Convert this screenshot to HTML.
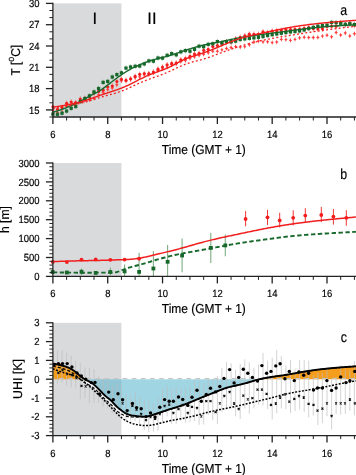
<!DOCTYPE html>
<html><head><meta charset="utf-8"><style>
html,body{margin:0;padding:0;background:#fff;}
body{width:356px;height:475px;position:relative;overflow:hidden;font-family:"Liberation Sans",sans-serif;color:#000;}
.t{position:absolute;white-space:nowrap;line-height:1;will-change:transform;text-rendering:geometricPrecision;-webkit-text-stroke:0.18px #000;}
sup{font-size:72%;vertical-align:0;position:relative;top:-0.62em;}
</style></head><body>
<svg width="356" height="475" viewBox="0 0 356 475" style="position:absolute;left:0;top:0">
<defs><clipPath id="cpa"><rect x="49" y="0" width="310" height="119"/></clipPath><clipPath id="cpb"><rect x="49" y="150" width="310" height="126.4"/></clipPath><clipPath id="cpc"><rect x="53" y="310" width="310" height="125.6"/></clipPath></defs>
<rect x="53.50" y="3.40" width="67.93" height="113.00" fill="#d9dadc"/>
<rect x="53.50" y="163.00" width="67.93" height="112.80" fill="#d9dadc"/>
<rect x="53.50" y="322.80" width="67.93" height="112.20" fill="#d9dadc"/>
<g clip-path="url(#cpa)">
<path d="M52.90,108.01L53.60,109.71L54.70,110.41L53.60,111.11L52.90,112.81L52.20,111.11L51.10,110.41L52.20,109.71Z" fill="#f33" fill-opacity="0.95"/>
<path d="M57.47,110.23L58.17,111.93L59.27,112.63L58.17,113.33L57.47,115.03L56.77,113.33L55.67,112.63L56.77,111.93Z" fill="#f33" fill-opacity="0.95"/>
<path d="M62.04,109.83L62.74,111.53L63.84,112.23L62.74,112.93L62.04,114.63L61.34,112.93L60.24,112.23L61.34,111.53Z" fill="#f33" fill-opacity="0.95"/>
<path d="M66.61,103.03L67.31,104.73L68.41,105.43L67.31,106.13L66.61,107.83L65.91,106.13L64.81,105.43L65.91,104.73Z" fill="#f33" fill-opacity="0.95"/>
<path d="M71.17,102.59L71.87,104.29L72.97,104.99L71.87,105.69L71.17,107.39L70.47,105.69L69.37,104.99L70.47,104.29Z" fill="#f33" fill-opacity="0.95"/>
<path d="M75.74,102.76L76.44,104.46L77.54,105.16L76.44,105.86L75.74,107.56L75.04,105.86L73.94,105.16L75.04,104.46Z" fill="#f33" fill-opacity="0.95"/>
<path d="M80.31,99.26L81.01,100.96L82.11,101.66L81.01,102.36L80.31,104.06L79.61,102.36L78.51,101.66L79.61,100.96Z" fill="#f33" fill-opacity="0.95"/>
<path d="M84.88,98.05L85.58,99.75L86.68,100.45L85.58,101.15L84.88,102.85L84.18,101.15L83.08,100.45L84.18,99.75Z" fill="#f33" fill-opacity="0.95"/>
<path d="M89.45,97.47L90.15,99.17L91.25,99.87L90.15,100.57L89.45,102.27L88.75,100.57L87.65,99.87L88.75,99.17Z" fill="#f33" fill-opacity="0.95"/>
<path d="M94.02,96.01L94.72,97.71L95.81,98.41L94.72,99.11L94.02,100.81L93.31,99.11L92.22,98.41L93.31,97.71Z" fill="#f33" fill-opacity="0.95"/>
<path d="M98.58,92.18L99.28,93.88L100.38,94.58L99.28,95.28L98.58,96.98L97.88,95.28L96.78,94.58L97.88,93.88Z" fill="#f33" fill-opacity="0.95"/>
<path d="M103.15,90.04L103.85,91.74L104.95,92.44L103.85,93.14L103.15,94.84L102.45,93.14L101.35,92.44L102.45,91.74Z" fill="#f33" fill-opacity="0.95"/>
<path d="M107.72,87.21L108.42,88.91L109.52,89.61L108.42,90.31L107.72,92.01L107.02,90.31L105.92,89.61L107.02,88.91Z" fill="#f33" fill-opacity="0.95"/>
<path d="M112.29,85.67L112.99,87.37L114.09,88.07L112.99,88.77L112.29,90.47L111.59,88.77L110.49,88.07L111.59,87.37Z" fill="#f33" fill-opacity="0.95"/>
<path d="M116.86,82.38L117.56,84.08L118.66,84.78L117.56,85.48L116.86,87.18L116.16,85.48L115.06,84.78L116.16,84.08Z" fill="#f33" fill-opacity="0.95"/>
<path d="M121.43,78.52L122.13,80.22L123.23,80.92L122.13,81.62L121.43,83.32L120.73,81.62L119.63,80.92L120.73,80.22Z" fill="#f33" fill-opacity="0.95"/>
<path d="M125.99,78.30L126.69,80.00L127.79,80.70L126.69,81.40L125.99,83.10L125.29,81.40L124.19,80.70L125.29,80.00Z" fill="#f33" fill-opacity="0.95"/>
<path d="M130.56,76.93L131.26,78.63L132.36,79.33L131.26,80.03L130.56,81.73L129.86,80.03L128.76,79.33L129.86,78.63Z" fill="#f33" fill-opacity="0.95"/>
<path d="M135.13,75.37L135.83,77.07L136.93,77.77L135.83,78.47L135.13,80.17L134.43,78.47L133.33,77.77L134.43,77.07Z" fill="#f33" fill-opacity="0.95"/>
<path d="M139.70,74.37L140.40,76.07L141.50,76.77L140.40,77.47L139.70,79.17L139.00,77.47L137.90,76.77L139.00,76.07Z" fill="#f33" fill-opacity="0.95"/>
<path d="M144.27,72.49L144.97,74.19L146.07,74.89L144.97,75.59L144.27,77.29L143.57,75.59L142.47,74.89L143.57,74.19Z" fill="#f33" fill-opacity="0.95"/>
<path d="M148.84,71.00L149.53,72.70L150.64,73.40L149.53,74.10L148.84,75.80L148.14,74.10L147.03,73.40L148.14,72.70Z" fill="#f33" fill-opacity="0.95"/>
<path d="M153.40,70.51L154.10,72.21L155.20,72.91L154.10,73.61L153.40,75.31L152.70,73.61L151.60,72.91L152.70,72.21Z" fill="#f33" fill-opacity="0.95"/>
<path d="M157.97,68.07L158.67,69.77L159.77,70.47L158.67,71.17L157.97,72.87L157.27,71.17L156.17,70.47L157.27,69.77Z" fill="#f33" fill-opacity="0.95"/>
<path d="M162.54,66.53L163.24,68.23L164.34,68.93L163.24,69.63L162.54,71.33L161.84,69.63L160.74,68.93L161.84,68.23Z" fill="#f33" fill-opacity="0.95"/>
<path d="M167.11,64.71L167.81,66.41L168.91,67.11L167.81,67.81L167.11,69.51L166.41,67.81L165.31,67.11L166.41,66.41Z" fill="#f33" fill-opacity="0.95"/>
<path d="M171.68,62.34L172.38,64.04L173.48,64.74L172.38,65.44L171.68,67.14L170.98,65.44L169.88,64.74L170.98,64.04Z" fill="#f33" fill-opacity="0.95"/>
<path d="M176.25,61.12L176.94,62.82L178.05,63.52L176.94,64.22L176.25,65.92L175.55,64.22L174.44,63.52L175.55,62.82Z" fill="#f33" fill-opacity="0.95"/>
<path d="M180.81,59.16L181.51,60.86L182.61,61.56L181.51,62.26L180.81,63.96L180.11,62.26L179.01,61.56L180.11,60.86Z" fill="#f33" fill-opacity="0.95"/>
<path d="M185.38,58.08L186.08,59.78L187.18,60.48L186.08,61.18L185.38,62.88L184.68,61.18L183.58,60.48L184.68,59.78Z" fill="#f33" fill-opacity="0.95"/>
<path d="M189.95,55.83L190.65,57.53L191.75,58.23L190.65,58.93L189.95,60.63L189.25,58.93L188.15,58.23L189.25,57.53Z" fill="#f33" fill-opacity="0.95"/>
<path d="M194.52,54.51L195.22,56.21L196.32,56.91L195.22,57.61L194.52,59.31L193.82,57.61L192.72,56.91L193.82,56.21Z" fill="#f33" fill-opacity="0.95"/>
<path d="M199.09,52.86L199.79,54.56L200.89,55.26L199.79,55.96L199.09,57.66L198.39,55.96L197.29,55.26L198.39,54.56Z" fill="#f33" fill-opacity="0.95"/>
<path d="M203.66,51.89L204.35,53.59L205.46,54.29L204.35,54.99L203.66,56.69L202.96,54.99L201.85,54.29L202.96,53.59Z" fill="#f33" fill-opacity="0.95"/>
<path d="M208.22,50.34L208.92,52.04L210.02,52.74L208.92,53.44L208.22,55.14L207.52,53.44L206.42,52.74L207.52,52.04Z" fill="#f33" fill-opacity="0.95"/>
<path d="M212.79,48.81L213.49,50.51L214.59,51.21L213.49,51.91L212.79,53.61L212.09,51.91L210.99,51.21L212.09,50.51Z" fill="#f33" fill-opacity="0.95"/>
<path d="M217.36,48.81L218.06,50.51L219.16,51.21L218.06,51.91L217.36,53.61L216.66,51.91L215.56,51.21L216.66,50.51Z" fill="#f33" fill-opacity="0.95"/>
<path d="M221.93,47.48L222.63,49.18L223.73,49.88L222.63,50.58L221.93,52.28L221.23,50.58L220.13,49.88L221.23,49.18Z" fill="#f33" fill-opacity="0.95"/>
<path d="M226.50,46.06L227.20,47.76L228.30,48.46L227.20,49.16L226.50,50.86L225.80,49.16L224.70,48.46L225.80,47.76Z" fill="#f33" fill-opacity="0.95"/>
<path d="M231.06,45.10L231.76,46.80L232.87,47.50L231.76,48.20L231.06,49.90L230.37,48.20L229.26,47.50L230.37,46.80Z" fill="#f33" fill-opacity="0.95"/>
<path d="M235.63,44.27L236.33,45.97L237.43,46.67L236.33,47.37L235.63,49.07L234.93,47.37L233.83,46.67L234.93,45.97Z" fill="#f33" fill-opacity="0.95"/>
<path d="M240.20,44.72L240.90,46.42L242.00,47.12L240.90,47.82L240.20,49.52L239.50,47.82L238.40,47.12L239.50,46.42Z" fill="#f33" fill-opacity="0.95"/>
<path d="M244.77,44.25L245.47,45.95L246.57,46.65L245.47,47.35L244.77,49.05L244.07,47.35L242.97,46.65L244.07,45.95Z" fill="#f33" fill-opacity="0.95"/>
<path d="M249.34,42.36L250.04,44.06L251.14,44.76L250.04,45.46L249.34,47.16L248.64,45.46L247.54,44.76L248.64,44.06Z" fill="#f33" fill-opacity="0.95"/>
<path d="M253.91,39.58L254.61,41.28L255.71,41.98L254.61,42.68L253.91,44.38L253.21,42.68L252.11,41.98L253.21,41.28Z" fill="#f33" fill-opacity="0.95"/>
<path d="M258.47,38.67L259.17,40.37L260.27,41.07L259.17,41.77L258.47,43.47L257.77,41.77L256.67,41.07L257.77,40.37Z" fill="#f33" fill-opacity="0.95"/>
<path d="M263.04,39.50L263.74,41.20L264.84,41.90L263.74,42.60L263.04,44.30L262.34,42.60L261.24,41.90L262.34,41.20Z" fill="#f33" fill-opacity="0.95"/>
<path d="M267.61,39.39L268.31,41.09L269.41,41.79L268.31,42.49L267.61,44.19L266.91,42.49L265.81,41.79L266.91,41.09Z" fill="#f33" fill-opacity="0.95"/>
<path d="M272.18,40.18L272.88,41.88L273.98,42.58L272.88,43.28L272.18,44.98L271.48,43.28L270.38,42.58L271.48,41.88Z" fill="#f33" fill-opacity="0.95"/>
<path d="M276.75,39.67L277.45,41.37L278.55,42.07L277.45,42.77L276.75,44.47L276.05,42.77L274.95,42.07L276.05,41.37Z" fill="#f33" fill-opacity="0.95"/>
<path d="M281.32,36.99L282.02,38.69L283.12,39.39L282.02,40.09L281.32,41.79L280.62,40.09L279.52,39.39L280.62,38.69Z" fill="#f33" fill-opacity="0.95"/>
<path d="M285.88,37.23L286.58,38.93L287.69,39.63L286.58,40.33L285.88,42.03L285.19,40.33L284.08,39.63L285.19,38.93Z" fill="#f33" fill-opacity="0.95"/>
<path d="M290.45,37.94L291.15,39.64L292.25,40.34L291.15,41.04L290.45,42.74L289.75,41.04L288.65,40.34L289.75,39.64Z" fill="#f33" fill-opacity="0.95"/>
<path d="M295.02,37.00L295.72,38.70L296.82,39.40L295.72,40.10L295.02,41.80L294.32,40.10L293.22,39.40L294.32,38.70Z" fill="#f33" fill-opacity="0.95"/>
<path d="M299.59,35.50L300.29,37.20L301.39,37.90L300.29,38.60L299.59,40.30L298.89,38.60L297.79,37.90L298.89,37.20Z" fill="#f33" fill-opacity="0.95"/>
<path d="M304.16,34.79L304.86,36.49L305.96,37.19L304.86,37.89L304.16,39.59L303.46,37.89L302.36,37.19L303.46,36.49Z" fill="#f33" fill-opacity="0.95"/>
<path d="M308.73,35.13L309.43,36.83L310.53,37.53L309.43,38.23L308.73,39.93L308.03,38.23L306.93,37.53L308.03,36.83Z" fill="#f33" fill-opacity="0.95"/>
<path d="M313.29,35.10L313.99,36.80L315.09,37.50L313.99,38.20L313.29,39.90L312.59,38.20L311.49,37.50L312.59,36.80Z" fill="#f33" fill-opacity="0.95"/>
<path d="M317.86,35.05L318.56,36.75L319.66,37.45L318.56,38.15L317.86,39.85L317.16,38.15L316.06,37.45L317.16,36.75Z" fill="#f33" fill-opacity="0.95"/>
<path d="M322.43,33.71L323.13,35.41L324.23,36.11L323.13,36.81L322.43,38.51L321.73,36.81L320.63,36.11L321.73,35.41Z" fill="#f33" fill-opacity="0.95"/>
<path d="M327.00,32.80L327.70,34.50L328.80,35.20L327.70,35.90L327.00,37.60L326.30,35.90L325.20,35.20L326.30,34.50Z" fill="#f33" fill-opacity="0.95"/>
<path d="M331.57,34.41L332.27,36.11L333.37,36.81L332.27,37.51L331.57,39.21L330.87,37.51L329.77,36.81L330.87,36.11Z" fill="#f33" fill-opacity="0.95"/>
<path d="M336.14,30.09L336.84,31.79L337.94,32.49L336.84,33.19L336.14,34.89L335.44,33.19L334.34,32.49L335.44,31.79Z" fill="#f33" fill-opacity="0.95"/>
<path d="M340.70,32.64L341.40,34.34L342.50,35.04L341.40,35.74L340.70,37.44L340.00,35.74L338.90,35.04L340.00,34.34Z" fill="#f33" fill-opacity="0.95"/>
<path d="M345.27,30.62L345.97,32.32L347.07,33.02L345.97,33.72L345.27,35.42L344.57,33.72L343.47,33.02L344.57,32.32Z" fill="#f33" fill-opacity="0.95"/>
<path d="M349.84,33.55L350.54,35.25L351.64,35.95L350.54,36.65L349.84,38.35L349.14,36.65L348.04,35.95L349.14,35.25Z" fill="#f33" fill-opacity="0.95"/>
<path d="M354.41,31.37L355.11,33.07L356.21,33.77L355.11,34.47L354.41,36.17L353.71,34.47L352.61,33.77L353.71,33.07Z" fill="#f33" fill-opacity="0.95"/>
<path d="M52.9,104.0V110.0" stroke="#f55" stroke-width="0.8" stroke-opacity="0.8"/>
<circle cx="52.9" cy="106.8" r="1.6" fill="#f21d1d"/>
<path d="M57.5,106.6V112.6" stroke="#f55" stroke-width="0.8" stroke-opacity="0.8"/>
<circle cx="57.5" cy="109.4" r="1.6" fill="#f21d1d"/>
<path d="M62.0,104.8V110.8" stroke="#f55" stroke-width="0.8" stroke-opacity="0.8"/>
<circle cx="62.0" cy="107.6" r="1.6" fill="#f21d1d"/>
<path d="M66.6,100.5V106.5" stroke="#f55" stroke-width="0.8" stroke-opacity="0.8"/>
<circle cx="66.6" cy="103.3" r="1.6" fill="#f21d1d"/>
<path d="M71.2,99.2V105.2" stroke="#f55" stroke-width="0.8" stroke-opacity="0.8"/>
<circle cx="71.2" cy="102.0" r="1.6" fill="#f21d1d"/>
<path d="M75.7,99.9V105.9" stroke="#f55" stroke-width="0.8" stroke-opacity="0.8"/>
<circle cx="75.7" cy="102.7" r="1.6" fill="#f21d1d"/>
<path d="M80.3,96.3V102.3" stroke="#f55" stroke-width="0.8" stroke-opacity="0.8"/>
<circle cx="80.3" cy="99.1" r="1.6" fill="#f21d1d"/>
<path d="M84.9,95.6V101.6" stroke="#f55" stroke-width="0.8" stroke-opacity="0.8"/>
<circle cx="84.9" cy="98.4" r="1.6" fill="#f21d1d"/>
<path d="M89.4,94.2V100.2" stroke="#f55" stroke-width="0.8" stroke-opacity="0.8"/>
<circle cx="89.4" cy="97.0" r="1.6" fill="#f21d1d"/>
<path d="M94.0,90.1V96.1" stroke="#f55" stroke-width="0.8" stroke-opacity="0.8"/>
<circle cx="94.0" cy="92.9" r="1.6" fill="#f21d1d"/>
<path d="M98.6,88.6V94.6" stroke="#f55" stroke-width="0.8" stroke-opacity="0.8"/>
<circle cx="98.6" cy="91.4" r="1.6" fill="#f21d1d"/>
<path d="M103.2,87.4V93.4" stroke="#f55" stroke-width="0.8" stroke-opacity="0.8"/>
<circle cx="103.2" cy="90.2" r="1.6" fill="#f21d1d"/>
<path d="M107.7,84.2V90.2" stroke="#f55" stroke-width="0.8" stroke-opacity="0.8"/>
<circle cx="107.7" cy="87.0" r="1.6" fill="#f21d1d"/>
<path d="M112.3,83.3V89.3" stroke="#f55" stroke-width="0.8" stroke-opacity="0.8"/>
<circle cx="112.3" cy="86.1" r="1.6" fill="#f21d1d"/>
<path d="M116.9,78.7V84.7" stroke="#f55" stroke-width="0.8" stroke-opacity="0.8"/>
<circle cx="116.9" cy="81.5" r="1.6" fill="#f21d1d"/>
<path d="M121.4,76.5V82.5" stroke="#f55" stroke-width="0.8" stroke-opacity="0.8"/>
<circle cx="121.4" cy="79.3" r="1.6" fill="#f21d1d"/>
<path d="M126.0,77.6V83.6" stroke="#f55" stroke-width="0.8" stroke-opacity="0.8"/>
<circle cx="126.0" cy="80.4" r="1.6" fill="#f21d1d"/>
<path d="M130.6,76.0V82.0" stroke="#f55" stroke-width="0.8" stroke-opacity="0.8"/>
<circle cx="130.6" cy="78.8" r="1.6" fill="#f21d1d"/>
<path d="M135.1,73.5V79.5" stroke="#f55" stroke-width="0.8" stroke-opacity="0.8"/>
<circle cx="135.1" cy="76.3" r="1.6" fill="#f21d1d"/>
<path d="M139.7,71.5V77.5" stroke="#f55" stroke-width="0.8" stroke-opacity="0.8"/>
<circle cx="139.7" cy="74.3" r="1.6" fill="#f21d1d"/>
<path d="M144.3,70.7V76.7" stroke="#f55" stroke-width="0.8" stroke-opacity="0.8"/>
<circle cx="144.3" cy="73.5" r="1.6" fill="#f21d1d"/>
<path d="M148.8,71.0V77.0" stroke="#f55" stroke-width="0.8" stroke-opacity="0.8"/>
<circle cx="148.8" cy="73.8" r="1.6" fill="#f21d1d"/>
<path d="M153.4,69.2V75.2" stroke="#f55" stroke-width="0.8" stroke-opacity="0.8"/>
<circle cx="153.4" cy="72.0" r="1.6" fill="#f21d1d"/>
<path d="M158.0,66.4V72.4" stroke="#f55" stroke-width="0.8" stroke-opacity="0.8"/>
<circle cx="158.0" cy="69.2" r="1.6" fill="#f21d1d"/>
<path d="M162.5,64.3V70.3" stroke="#f55" stroke-width="0.8" stroke-opacity="0.8"/>
<circle cx="162.5" cy="67.1" r="1.6" fill="#f21d1d"/>
<path d="M167.1,62.0V68.0" stroke="#f55" stroke-width="0.8" stroke-opacity="0.8"/>
<circle cx="167.1" cy="64.8" r="1.6" fill="#f21d1d"/>
<path d="M171.7,60.6V66.6" stroke="#f55" stroke-width="0.8" stroke-opacity="0.8"/>
<circle cx="171.7" cy="63.4" r="1.6" fill="#f21d1d"/>
<path d="M176.2,60.3V66.3" stroke="#f55" stroke-width="0.8" stroke-opacity="0.8"/>
<circle cx="176.2" cy="63.1" r="1.6" fill="#f21d1d"/>
<path d="M180.8,57.0V63.0" stroke="#f55" stroke-width="0.8" stroke-opacity="0.8"/>
<circle cx="180.8" cy="59.8" r="1.6" fill="#f21d1d"/>
<path d="M185.4,55.7V61.7" stroke="#f55" stroke-width="0.8" stroke-opacity="0.8"/>
<circle cx="185.4" cy="58.5" r="1.6" fill="#f21d1d"/>
<path d="M190.0,53.5V59.5" stroke="#f55" stroke-width="0.8" stroke-opacity="0.8"/>
<circle cx="190.0" cy="56.3" r="1.6" fill="#f21d1d"/>
<path d="M194.5,51.2V57.2" stroke="#f55" stroke-width="0.8" stroke-opacity="0.8"/>
<circle cx="194.5" cy="54.0" r="1.6" fill="#f21d1d"/>
<path d="M199.1,50.5V56.5" stroke="#f55" stroke-width="0.8" stroke-opacity="0.8"/>
<circle cx="199.1" cy="53.3" r="1.6" fill="#f21d1d"/>
<path d="M203.7,47.5V53.5" stroke="#f55" stroke-width="0.8" stroke-opacity="0.8"/>
<circle cx="203.7" cy="50.3" r="1.6" fill="#f21d1d"/>
<path d="M208.2,46.6V52.6" stroke="#f55" stroke-width="0.8" stroke-opacity="0.8"/>
<circle cx="208.2" cy="49.4" r="1.6" fill="#f21d1d"/>
<path d="M212.8,43.8V49.8" stroke="#f55" stroke-width="0.8" stroke-opacity="0.8"/>
<circle cx="212.8" cy="46.6" r="1.6" fill="#f21d1d"/>
<path d="M217.4,42.7V48.7" stroke="#f55" stroke-width="0.8" stroke-opacity="0.8"/>
<circle cx="217.4" cy="45.5" r="1.6" fill="#f21d1d"/>
<path d="M221.9,40.7V46.7" stroke="#f55" stroke-width="0.8" stroke-opacity="0.8"/>
<circle cx="221.9" cy="43.5" r="1.6" fill="#f21d1d"/>
<path d="M226.5,39.2V45.2" stroke="#f55" stroke-width="0.8" stroke-opacity="0.8"/>
<circle cx="226.5" cy="42.0" r="1.6" fill="#f21d1d"/>
<path d="M231.1,38.9V44.9" stroke="#f55" stroke-width="0.8" stroke-opacity="0.8"/>
<circle cx="231.1" cy="41.7" r="1.6" fill="#f21d1d"/>
<path d="M235.6,36.1V42.1" stroke="#f55" stroke-width="0.8" stroke-opacity="0.8"/>
<circle cx="235.6" cy="38.9" r="1.6" fill="#f21d1d"/>
<path d="M240.2,34.5V40.5" stroke="#f55" stroke-width="0.8" stroke-opacity="0.8"/>
<circle cx="240.2" cy="37.3" r="1.6" fill="#f21d1d"/>
<path d="M244.8,33.1V39.1" stroke="#f55" stroke-width="0.8" stroke-opacity="0.8"/>
<circle cx="244.8" cy="35.9" r="1.6" fill="#f21d1d"/>
<path d="M249.3,31.4V37.4" stroke="#f55" stroke-width="0.8" stroke-opacity="0.8"/>
<circle cx="249.3" cy="34.2" r="1.6" fill="#f21d1d"/>
<path d="M253.9,31.5V37.5" stroke="#f55" stroke-width="0.8" stroke-opacity="0.8"/>
<circle cx="253.9" cy="34.3" r="1.6" fill="#f21d1d"/>
<path d="M258.5,31.5V37.5" stroke="#f55" stroke-width="0.8" stroke-opacity="0.8"/>
<circle cx="258.5" cy="34.3" r="1.6" fill="#f21d1d"/>
<path d="M263.0,29.1V35.1" stroke="#f55" stroke-width="0.8" stroke-opacity="0.8"/>
<circle cx="263.0" cy="31.9" r="1.6" fill="#f21d1d"/>
<path d="M267.6,29.8V35.8" stroke="#f55" stroke-width="0.8" stroke-opacity="0.8"/>
<circle cx="267.6" cy="32.6" r="1.6" fill="#f21d1d"/>
<path d="M272.2,28.4V34.4" stroke="#f55" stroke-width="0.8" stroke-opacity="0.8"/>
<circle cx="272.2" cy="31.2" r="1.6" fill="#f21d1d"/>
<path d="M276.7,28.0V34.0" stroke="#f55" stroke-width="0.8" stroke-opacity="0.8"/>
<circle cx="276.7" cy="30.8" r="1.6" fill="#f21d1d"/>
<path d="M281.3,27.6V33.6" stroke="#f55" stroke-width="0.8" stroke-opacity="0.8"/>
<circle cx="281.3" cy="30.4" r="1.6" fill="#f21d1d"/>
<path d="M285.9,27.0V33.0" stroke="#f55" stroke-width="0.8" stroke-opacity="0.8"/>
<circle cx="285.9" cy="29.8" r="1.6" fill="#f21d1d"/>
<path d="M290.5,26.7V32.7" stroke="#f55" stroke-width="0.8" stroke-opacity="0.8"/>
<circle cx="290.5" cy="29.5" r="1.6" fill="#f21d1d"/>
<path d="M295.0,26.6V32.6" stroke="#f55" stroke-width="0.8" stroke-opacity="0.8"/>
<circle cx="295.0" cy="29.4" r="1.6" fill="#f21d1d"/>
<path d="M299.6,26.4V32.4" stroke="#f55" stroke-width="0.8" stroke-opacity="0.8"/>
<circle cx="299.6" cy="29.2" r="1.6" fill="#f21d1d"/>
<path d="M304.2,25.5V31.5" stroke="#f55" stroke-width="0.8" stroke-opacity="0.8"/>
<circle cx="304.2" cy="28.3" r="1.6" fill="#f21d1d"/>
<path d="M308.7,24.7V30.7" stroke="#f55" stroke-width="0.8" stroke-opacity="0.8"/>
<circle cx="308.7" cy="27.5" r="1.6" fill="#f21d1d"/>
<path d="M313.3,25.8V31.8" stroke="#f55" stroke-width="0.8" stroke-opacity="0.8"/>
<circle cx="313.3" cy="28.6" r="1.6" fill="#f21d1d"/>
<path d="M317.9,26.2V32.2" stroke="#f55" stroke-width="0.8" stroke-opacity="0.8"/>
<circle cx="317.9" cy="29.0" r="1.6" fill="#f21d1d"/>
<path d="M322.4,25.9V31.9" stroke="#f55" stroke-width="0.8" stroke-opacity="0.8"/>
<circle cx="322.4" cy="28.7" r="1.6" fill="#f21d1d"/>
<path d="M327.0,23.7V29.7" stroke="#f55" stroke-width="0.8" stroke-opacity="0.8"/>
<circle cx="327.0" cy="26.5" r="1.6" fill="#f21d1d"/>
<path d="M331.6,23.4V29.4" stroke="#f55" stroke-width="0.8" stroke-opacity="0.8"/>
<circle cx="331.6" cy="26.2" r="1.6" fill="#f21d1d"/>
<path d="M336.1,23.4V29.4" stroke="#f55" stroke-width="0.8" stroke-opacity="0.8"/>
<circle cx="336.1" cy="26.2" r="1.6" fill="#f21d1d"/>
<path d="M340.7,19.8V25.8" stroke="#f55" stroke-width="0.8" stroke-opacity="0.8"/>
<circle cx="340.7" cy="22.6" r="1.6" fill="#f21d1d"/>
<path d="M345.3,21.8V27.8" stroke="#f55" stroke-width="0.8" stroke-opacity="0.8"/>
<circle cx="345.3" cy="24.6" r="1.6" fill="#f21d1d"/>
<path d="M349.8,20.8V26.8" stroke="#f55" stroke-width="0.8" stroke-opacity="0.8"/>
<circle cx="349.8" cy="23.6" r="1.6" fill="#f21d1d"/>
<path d="M354.4,22.3V28.3" stroke="#f55" stroke-width="0.8" stroke-opacity="0.8"/>
<circle cx="354.4" cy="25.1" r="1.6" fill="#f21d1d"/>
<path d="M52.90,111.54V116.74" stroke="#17692b" stroke-width="0.7" stroke-opacity="0.6"/>
<rect x="51.25" y="112.54" width="3.3" height="3.2" fill="#17692b"/>
<path d="M57.47,111.69V116.89" stroke="#17692b" stroke-width="0.7" stroke-opacity="0.6"/>
<rect x="55.82" y="112.69" width="3.3" height="3.2" fill="#17692b"/>
<path d="M62.04,110.63V115.83" stroke="#17692b" stroke-width="0.7" stroke-opacity="0.6"/>
<rect x="60.39" y="111.63" width="3.3" height="3.2" fill="#17692b"/>
<path d="M66.61,108.47V113.67" stroke="#17692b" stroke-width="0.7" stroke-opacity="0.6"/>
<rect x="64.95" y="109.47" width="3.3" height="3.2" fill="#17692b"/>
<path d="M71.17,105.71V110.91" stroke="#17692b" stroke-width="0.7" stroke-opacity="0.6"/>
<rect x="69.52" y="106.71" width="3.3" height="3.2" fill="#17692b"/>
<path d="M75.74,103.92V109.12" stroke="#17692b" stroke-width="0.7" stroke-opacity="0.6"/>
<rect x="74.09" y="104.92" width="3.3" height="3.2" fill="#17692b"/>
<path d="M80.31,98.87V104.07" stroke="#17692b" stroke-width="0.7" stroke-opacity="0.6"/>
<rect x="78.66" y="99.87" width="3.3" height="3.2" fill="#17692b"/>
<path d="M84.88,95.91V101.11" stroke="#17692b" stroke-width="0.7" stroke-opacity="0.6"/>
<rect x="83.23" y="96.91" width="3.3" height="3.2" fill="#17692b"/>
<path d="M89.45,93.19V98.39" stroke="#17692b" stroke-width="0.7" stroke-opacity="0.6"/>
<rect x="87.80" y="94.19" width="3.3" height="3.2" fill="#17692b"/>
<path d="M94.02,89.33V94.53" stroke="#17692b" stroke-width="0.7" stroke-opacity="0.6"/>
<rect x="92.36" y="90.33" width="3.3" height="3.2" fill="#17692b"/>
<path d="M98.58,85.92V91.12" stroke="#17692b" stroke-width="0.7" stroke-opacity="0.6"/>
<rect x="96.93" y="86.92" width="3.3" height="3.2" fill="#17692b"/>
<path d="M103.15,79.80V85.00" stroke="#17692b" stroke-width="0.7" stroke-opacity="0.6"/>
<rect x="101.50" y="80.80" width="3.3" height="3.2" fill="#17692b"/>
<path d="M107.72,78.81V84.01" stroke="#17692b" stroke-width="0.7" stroke-opacity="0.6"/>
<rect x="106.07" y="79.81" width="3.3" height="3.2" fill="#17692b"/>
<path d="M112.29,74.41V79.61" stroke="#17692b" stroke-width="0.7" stroke-opacity="0.6"/>
<rect x="110.64" y="75.41" width="3.3" height="3.2" fill="#17692b"/>
<path d="M116.86,72.03V77.23" stroke="#17692b" stroke-width="0.7" stroke-opacity="0.6"/>
<rect x="115.21" y="73.03" width="3.3" height="3.2" fill="#17692b"/>
<path d="M121.43,70.20V75.40" stroke="#17692b" stroke-width="0.7" stroke-opacity="0.6"/>
<rect x="119.78" y="71.20" width="3.3" height="3.2" fill="#17692b"/>
<path d="M125.99,65.49V70.69" stroke="#17692b" stroke-width="0.7" stroke-opacity="0.6"/>
<rect x="124.34" y="66.49" width="3.3" height="3.2" fill="#17692b"/>
<path d="M130.56,64.36V69.56" stroke="#17692b" stroke-width="0.7" stroke-opacity="0.6"/>
<rect x="128.91" y="65.36" width="3.3" height="3.2" fill="#17692b"/>
<path d="M135.13,63.64V68.84" stroke="#17692b" stroke-width="0.7" stroke-opacity="0.6"/>
<rect x="133.48" y="64.64" width="3.3" height="3.2" fill="#17692b"/>
<path d="M139.70,63.45V68.65" stroke="#17692b" stroke-width="0.7" stroke-opacity="0.6"/>
<rect x="138.05" y="64.45" width="3.3" height="3.2" fill="#17692b"/>
<path d="M144.27,61.35V66.55" stroke="#17692b" stroke-width="0.7" stroke-opacity="0.6"/>
<rect x="142.62" y="62.35" width="3.3" height="3.2" fill="#17692b"/>
<path d="M148.84,58.32V63.52" stroke="#17692b" stroke-width="0.7" stroke-opacity="0.6"/>
<rect x="147.19" y="59.32" width="3.3" height="3.2" fill="#17692b"/>
<path d="M153.40,58.55V63.75" stroke="#17692b" stroke-width="0.7" stroke-opacity="0.6"/>
<rect x="151.75" y="59.55" width="3.3" height="3.2" fill="#17692b"/>
<path d="M157.97,55.40V60.60" stroke="#17692b" stroke-width="0.7" stroke-opacity="0.6"/>
<rect x="156.32" y="56.40" width="3.3" height="3.2" fill="#17692b"/>
<path d="M162.54,55.52V60.72" stroke="#17692b" stroke-width="0.7" stroke-opacity="0.6"/>
<rect x="160.89" y="56.52" width="3.3" height="3.2" fill="#17692b"/>
<path d="M167.11,52.73V57.93" stroke="#17692b" stroke-width="0.7" stroke-opacity="0.6"/>
<rect x="165.46" y="53.73" width="3.3" height="3.2" fill="#17692b"/>
<path d="M171.68,51.03V56.23" stroke="#17692b" stroke-width="0.7" stroke-opacity="0.6"/>
<rect x="170.03" y="52.03" width="3.3" height="3.2" fill="#17692b"/>
<path d="M176.25,52.27V57.47" stroke="#17692b" stroke-width="0.7" stroke-opacity="0.6"/>
<rect x="174.59" y="53.27" width="3.3" height="3.2" fill="#17692b"/>
<path d="M180.81,49.25V54.45" stroke="#17692b" stroke-width="0.7" stroke-opacity="0.6"/>
<rect x="179.16" y="50.25" width="3.3" height="3.2" fill="#17692b"/>
<path d="M185.38,47.99V53.19" stroke="#17692b" stroke-width="0.7" stroke-opacity="0.6"/>
<rect x="183.73" y="48.99" width="3.3" height="3.2" fill="#17692b"/>
<path d="M189.95,48.65V53.85" stroke="#17692b" stroke-width="0.7" stroke-opacity="0.6"/>
<rect x="188.30" y="49.65" width="3.3" height="3.2" fill="#17692b"/>
<path d="M194.52,46.77V51.97" stroke="#17692b" stroke-width="0.7" stroke-opacity="0.6"/>
<rect x="192.87" y="47.77" width="3.3" height="3.2" fill="#17692b"/>
<path d="M199.09,43.60V48.80" stroke="#17692b" stroke-width="0.7" stroke-opacity="0.6"/>
<rect x="197.44" y="44.60" width="3.3" height="3.2" fill="#17692b"/>
<path d="M203.66,44.12V49.32" stroke="#17692b" stroke-width="0.7" stroke-opacity="0.6"/>
<rect x="202.00" y="45.12" width="3.3" height="3.2" fill="#17692b"/>
<path d="M208.22,41.77V46.97" stroke="#17692b" stroke-width="0.7" stroke-opacity="0.6"/>
<rect x="206.57" y="42.77" width="3.3" height="3.2" fill="#17692b"/>
<path d="M212.79,41.16V46.36" stroke="#17692b" stroke-width="0.7" stroke-opacity="0.6"/>
<rect x="211.14" y="42.16" width="3.3" height="3.2" fill="#17692b"/>
<path d="M217.36,39.00V44.20" stroke="#17692b" stroke-width="0.7" stroke-opacity="0.6"/>
<rect x="215.71" y="40.00" width="3.3" height="3.2" fill="#17692b"/>
<path d="M221.93,40.35V45.55" stroke="#17692b" stroke-width="0.7" stroke-opacity="0.6"/>
<rect x="220.28" y="41.35" width="3.3" height="3.2" fill="#17692b"/>
<path d="M226.50,39.03V44.23" stroke="#17692b" stroke-width="0.7" stroke-opacity="0.6"/>
<rect x="224.85" y="40.03" width="3.3" height="3.2" fill="#17692b"/>
<path d="M231.06,39.26V44.46" stroke="#17692b" stroke-width="0.7" stroke-opacity="0.6"/>
<rect x="229.41" y="40.26" width="3.3" height="3.2" fill="#17692b"/>
<path d="M235.63,38.52V43.72" stroke="#17692b" stroke-width="0.7" stroke-opacity="0.6"/>
<rect x="233.98" y="39.52" width="3.3" height="3.2" fill="#17692b"/>
<path d="M240.20,36.88V42.08" stroke="#17692b" stroke-width="0.7" stroke-opacity="0.6"/>
<rect x="238.55" y="37.88" width="3.3" height="3.2" fill="#17692b"/>
<path d="M244.77,36.30V41.50" stroke="#17692b" stroke-width="0.7" stroke-opacity="0.6"/>
<rect x="243.12" y="37.30" width="3.3" height="3.2" fill="#17692b"/>
<path d="M249.34,35.74V40.94" stroke="#17692b" stroke-width="0.7" stroke-opacity="0.6"/>
<rect x="247.69" y="36.74" width="3.3" height="3.2" fill="#17692b"/>
<path d="M253.91,35.24V40.44" stroke="#17692b" stroke-width="0.7" stroke-opacity="0.6"/>
<rect x="252.26" y="36.24" width="3.3" height="3.2" fill="#17692b"/>
<path d="M258.47,34.73V39.93" stroke="#17692b" stroke-width="0.7" stroke-opacity="0.6"/>
<rect x="256.82" y="35.73" width="3.3" height="3.2" fill="#17692b"/>
<path d="M263.04,33.99V39.19" stroke="#17692b" stroke-width="0.7" stroke-opacity="0.6"/>
<rect x="261.39" y="34.99" width="3.3" height="3.2" fill="#17692b"/>
<path d="M267.61,32.98V38.18" stroke="#17692b" stroke-width="0.7" stroke-opacity="0.6"/>
<rect x="265.96" y="33.98" width="3.3" height="3.2" fill="#17692b"/>
<path d="M272.18,32.14V37.34" stroke="#17692b" stroke-width="0.7" stroke-opacity="0.6"/>
<rect x="270.53" y="33.14" width="3.3" height="3.2" fill="#17692b"/>
<path d="M276.75,31.41V36.61" stroke="#17692b" stroke-width="0.7" stroke-opacity="0.6"/>
<rect x="275.10" y="32.41" width="3.3" height="3.2" fill="#17692b"/>
<path d="M281.32,30.69V35.89" stroke="#17692b" stroke-width="0.7" stroke-opacity="0.6"/>
<rect x="279.67" y="31.69" width="3.3" height="3.2" fill="#17692b"/>
<path d="M285.88,29.95V35.15" stroke="#17692b" stroke-width="0.7" stroke-opacity="0.6"/>
<rect x="284.24" y="30.95" width="3.3" height="3.2" fill="#17692b"/>
<path d="M290.45,29.35V34.55" stroke="#17692b" stroke-width="0.7" stroke-opacity="0.6"/>
<rect x="288.80" y="30.35" width="3.3" height="3.2" fill="#17692b"/>
<path d="M295.02,28.92V34.12" stroke="#17692b" stroke-width="0.7" stroke-opacity="0.6"/>
<rect x="293.37" y="29.92" width="3.3" height="3.2" fill="#17692b"/>
<path d="M299.59,28.38V33.58" stroke="#17692b" stroke-width="0.7" stroke-opacity="0.6"/>
<rect x="297.94" y="29.38" width="3.3" height="3.2" fill="#17692b"/>
<path d="M304.16,27.39V32.59" stroke="#17692b" stroke-width="0.7" stroke-opacity="0.6"/>
<rect x="302.51" y="28.39" width="3.3" height="3.2" fill="#17692b"/>
<path d="M308.73,25.98V31.18" stroke="#17692b" stroke-width="0.7" stroke-opacity="0.6"/>
<rect x="307.08" y="26.98" width="3.3" height="3.2" fill="#17692b"/>
<path d="M313.29,24.72V29.92" stroke="#17692b" stroke-width="0.7" stroke-opacity="0.6"/>
<rect x="311.64" y="25.72" width="3.3" height="3.2" fill="#17692b"/>
<path d="M317.86,23.50V28.70" stroke="#17692b" stroke-width="0.7" stroke-opacity="0.6"/>
<rect x="316.21" y="24.50" width="3.3" height="3.2" fill="#17692b"/>
<path d="M322.43,23.01V28.21" stroke="#17692b" stroke-width="0.7" stroke-opacity="0.6"/>
<rect x="320.78" y="24.01" width="3.3" height="3.2" fill="#17692b"/>
<path d="M327.00,22.50V27.70" stroke="#17692b" stroke-width="0.7" stroke-opacity="0.6"/>
<rect x="325.35" y="23.50" width="3.3" height="3.2" fill="#17692b"/>
<path d="M331.57,19.81V25.01" stroke="#17692b" stroke-width="0.7" stroke-opacity="0.6"/>
<rect x="329.92" y="20.81" width="3.3" height="3.2" fill="#17692b"/>
<path d="M336.14,20.02V25.22" stroke="#17692b" stroke-width="0.7" stroke-opacity="0.6"/>
<rect x="334.49" y="21.02" width="3.3" height="3.2" fill="#17692b"/>
<path d="M340.70,20.69V25.89" stroke="#17692b" stroke-width="0.7" stroke-opacity="0.6"/>
<rect x="339.06" y="21.69" width="3.3" height="3.2" fill="#17692b"/>
<path d="M345.27,21.69V26.89" stroke="#17692b" stroke-width="0.7" stroke-opacity="0.6"/>
<rect x="343.62" y="22.69" width="3.3" height="3.2" fill="#17692b"/>
<path d="M349.84,21.02V26.22" stroke="#17692b" stroke-width="0.7" stroke-opacity="0.6"/>
<rect x="348.19" y="22.02" width="3.3" height="3.2" fill="#17692b"/>
<path d="M354.41,21.95V27.15" stroke="#17692b" stroke-width="0.7" stroke-opacity="0.6"/>
<rect x="352.76" y="22.95" width="3.3" height="3.2" fill="#17692b"/>
<path d="M52.90,112.30 L53.90,111.99 L54.90,111.68 L55.90,111.37 L56.90,111.05 L57.90,110.73 L58.90,110.40 L59.90,110.07 L60.90,109.72 L61.90,109.37 L62.90,109.01 L63.90,108.63 L64.90,108.24 L65.90,107.84 L66.90,107.42 L67.90,106.99 L68.90,106.55 L69.90,106.12 L70.90,105.68 L71.90,105.24 L72.90,104.82 L73.90,104.39 L74.90,103.97 L75.90,103.54 L76.90,103.09 L77.90,102.64 L78.90,102.16 L79.90,101.65 L80.90,101.12 L81.90,100.56 L82.90,99.98 L83.90,99.39 L84.90,98.80 L85.90,98.20 L86.90,97.62 L87.90,97.06 L88.90,96.51 L89.90,95.99 L90.90,95.47 L91.90,94.97 L92.90,94.47 L93.90,93.97 L94.90,93.46 L95.90,92.94 L96.90,92.41 L97.90,91.85 L98.90,91.26 L99.90,90.64 L100.90,89.99 L101.90,89.31 L102.90,88.61 L103.90,87.89 L104.90,87.16 L105.90,86.41 L106.90,85.64 L107.90,84.88 L108.90,84.11 L109.90,83.33 L110.90,82.56 L111.90,81.79 L112.90,81.02 L113.90,80.26 L114.90,79.50 L115.90,78.75 L116.90,78.01 L117.90,77.27 L118.90,76.55 L119.90,75.84 L120.90,75.14 L121.90,74.46 L122.90,73.79 L123.90,73.14 L124.90,72.49 L125.90,71.87 L126.90,71.26 L127.90,70.67 L128.90,70.09 L129.90,69.53 L130.90,68.98 L131.90,68.45 L132.90,67.94 L133.90,67.43 L134.90,66.94 L135.90,66.46 L136.90,66.00 L137.90,65.54 L138.90,65.10 L139.90,64.67 L140.90,64.24 L141.90,63.83 L142.90,63.42 L143.90,63.03 L144.90,62.64 L145.90,62.26 L146.90,61.90 L147.90,61.54 L148.90,61.19 L149.90,60.86 L150.90,60.53 L151.90,60.21 L152.90,59.91 L153.90,59.61 L154.90,59.33 L155.90,59.05 L156.90,58.79 L157.90,58.53 L158.90,58.28 L159.90,58.03 L160.90,57.79 L161.90,57.55 L162.90,57.31 L163.90,57.06 L164.90,56.81 L165.90,56.56 L166.90,56.30 L167.90,56.03 L168.90,55.75 L169.90,55.46 L170.90,55.16 L171.90,54.85 L172.90,54.54 L173.90,54.22 L174.90,53.90 L175.90,53.56 L176.90,53.23 L177.90,52.89 L178.90,52.55 L179.90,52.21 L180.90,51.87 L181.90,51.52 L182.90,51.18 L183.90,50.84 L184.90,50.50 L185.90,50.16 L186.90,49.83 L187.90,49.51 L188.90,49.18 L189.90,48.87 L190.90,48.55 L191.90,48.25 L192.90,47.94 L193.90,47.65 L194.90,47.36 L195.90,47.07 L196.90,46.79 L197.90,46.52 L198.90,46.26 L199.90,46.00 L200.90,45.74 L201.90,45.50 L202.90,45.26 L203.90,45.02 L204.90,44.80 L205.90,44.58 L206.90,44.36 L207.90,44.15 L208.90,43.95 L209.90,43.75 L210.90,43.55 L211.90,43.36 L212.90,43.17 L213.90,42.98 L214.90,42.79 L215.90,42.60 L216.90,42.40 L217.90,42.21 L218.90,42.02 L219.90,41.82 L220.90,41.62 L221.90,41.42 L222.90,41.21 L223.90,41.00 L224.90,40.79 L225.90,40.58 L226.90,40.37 L227.90,40.16 L228.90,39.94 L229.90,39.73 L230.90,39.52 L231.90,39.31 L232.90,39.10 L233.90,38.90 L234.90,38.69 L235.90,38.49 L236.90,38.29 L237.90,38.10 L238.90,37.90 L239.90,37.72 L240.90,37.54 L241.90,37.36 L242.90,37.19 L243.90,37.02 L244.90,36.85 L245.90,36.69 L246.90,36.54 L247.90,36.38 L248.90,36.23 L249.90,36.09 L250.90,35.94 L251.90,35.80 L252.90,35.66 L253.90,35.52 L254.90,35.38 L255.90,35.25 L256.90,35.11 L257.90,34.98 L258.90,34.85 L259.90,34.71 L260.90,34.58 L261.90,34.45 L262.90,34.32 L263.90,34.19 L264.90,34.06 L265.90,33.93 L266.90,33.80 L267.90,33.67 L268.90,33.54 L269.90,33.41 L270.90,33.28 L271.90,33.15 L272.90,33.02 L273.90,32.89 L274.90,32.76 L275.90,32.63 L276.90,32.50 L277.90,32.37 L278.90,32.24 L279.90,32.11 L280.90,31.98 L281.90,31.85 L282.90,31.72 L283.90,31.59 L284.90,31.46 L285.90,31.33 L286.90,31.20 L287.90,31.07 L288.90,30.94 L289.90,30.81 L290.90,30.68 L291.90,30.55 L292.90,30.42 L293.90,30.29 L294.90,30.16 L295.90,30.03 L296.90,29.90 L297.90,29.77 L298.90,29.64 L299.90,29.51 L300.90,29.39 L301.90,29.26 L302.90,29.13 L303.90,29.01 L304.90,28.88 L305.90,28.76 L306.90,28.64 L307.90,28.52 L308.90,28.40 L309.90,28.28 L310.90,28.17 L311.90,28.05 L312.90,27.94 L313.90,27.83 L314.90,27.72 L315.90,27.61 L316.90,27.51 L317.90,27.41 L318.90,27.31 L319.90,27.21 L320.90,27.11 L321.90,27.02 L322.90,26.93 L323.90,26.84 L324.90,26.76 L325.90,26.67 L326.90,26.59 L327.90,26.51 L328.90,26.43 L329.90,26.36 L330.90,26.28 L331.90,26.21 L332.90,26.14 L333.90,26.07 L334.90,26.00 L335.90,25.94 L336.90,25.87 L337.90,25.81 L338.90,25.74 L339.90,25.68 L340.90,25.62 L341.90,25.56 L342.90,25.51 L343.90,25.45 L344.90,25.39 L345.90,25.34 L346.90,25.28 L347.90,25.23 L348.90,25.17 L349.90,25.12 L350.90,25.07 L351.90,25.01 L352.90,24.96 L353.90,24.91 L354.90,24.86 L355.90,24.81" stroke="#17692b" stroke-width="1.4" fill="none"/>
<path d="M52.90,108.70 L53.90,108.53 L54.90,108.36 L55.90,108.19 L56.90,108.02 L57.90,107.85 L58.90,107.68 L59.90,107.51 L60.90,107.33 L61.90,107.15 L62.90,106.98 L63.90,106.80 L64.90,106.61 L65.90,106.43 L66.90,106.24 L67.90,106.05 L68.90,105.86 L69.90,105.66 L70.90,105.46 L71.90,105.26 L72.90,105.05 L73.90,104.84 L74.90,104.62 L75.90,104.40 L76.90,104.17 L77.90,103.94 L78.90,103.71 L79.90,103.47 L80.90,103.22 L81.90,102.97 L82.90,102.71 L83.90,102.45 L84.90,102.18 L85.90,101.90 L86.90,101.62 L87.90,101.33 L88.90,101.03 L89.90,100.73 L90.90,100.42 L91.90,100.11 L92.90,99.79 L93.90,99.47 L94.90,99.15 L95.90,98.83 L96.90,98.50 L97.90,98.18 L98.90,97.86 L99.90,97.55 L100.90,97.23 L101.90,96.93 L102.90,96.62 L103.90,96.33 L104.90,96.04 L105.90,95.76 L106.90,95.48 L107.90,95.21 L108.90,94.93 L109.90,94.66 L110.90,94.39 L111.90,94.11 L112.90,93.84 L113.90,93.55 L114.90,93.26 L115.90,92.96 L116.90,92.65 L117.90,92.33 L118.90,92.00 L119.90,91.66 L120.90,91.30 L121.90,90.93 L122.90,90.55 L123.90,90.16 L124.90,89.76 L125.90,89.34 L126.90,88.92 L127.90,88.48 L128.90,88.04 L129.90,87.59 L130.90,87.12 L131.90,86.65 L132.90,86.17 L133.90,85.68 L134.90,85.19 L135.90,84.70 L136.90,84.22 L137.90,83.75 L138.90,83.29 L139.90,82.84 L140.90,82.41 L141.90,81.98 L142.90,81.57 L143.90,81.17 L144.90,80.78 L145.90,80.39 L146.90,80.01 L147.90,79.64 L148.90,79.27 L149.90,78.91 L150.90,78.55 L151.90,78.19 L152.90,77.84 L153.90,77.48 L154.90,77.13 L155.90,76.78 L156.90,76.42 L157.90,76.06 L158.90,75.70 L159.90,75.33 L160.90,74.96 L161.90,74.58 L162.90,74.20 L163.90,73.81 L164.90,73.41 L165.90,73.00 L166.90,72.58 L167.90,72.14 L168.90,71.70 L169.90,71.25 L170.90,70.78 L171.90,70.32 L172.90,69.84 L173.90,69.36 L174.90,68.89 L175.90,68.41 L176.90,67.93 L177.90,67.46 L178.90,67.00 L179.90,66.54 L180.90,66.09 L181.90,65.66 L182.90,65.23 L183.90,64.83 L184.90,64.44 L185.90,64.07 L186.90,63.71 L187.90,63.38 L188.90,63.06 L189.90,62.75 L190.90,62.45 L191.90,62.16 L192.90,61.88 L193.90,61.61 L194.90,61.34 L195.90,61.08 L196.90,60.82 L197.90,60.56 L198.90,60.30 L199.90,60.04 L200.90,59.77 L201.90,59.50 L202.90,59.22 L203.90,58.93 L204.90,58.63 L205.90,58.32 L206.90,58.00 L207.90,57.67 L208.90,57.33 L209.90,56.98 L210.90,56.62 L211.90,56.26 L212.90,55.89 L213.90,55.52 L214.90,55.14 L215.90,54.76 L216.90,54.38 L217.90,54.00 L218.90,53.62 L219.90,53.24 L220.90,52.86 L221.90,52.48 L222.90,52.11 L223.90,51.74 L224.90,51.37 L225.90,51.01 L226.90,50.64 L227.90,50.28 L228.90,49.93 L229.90,49.57 L230.90,49.22 L231.90,48.88 L232.90,48.54 L233.90,48.20 L234.90,47.86 L235.90,47.53 L236.90,47.21 L237.90,46.88 L238.90,46.57 L239.90,46.25 L240.90,45.94 L241.90,45.64 L242.90,45.34 L243.90,45.04 L244.90,44.75 L245.90,44.46 L246.90,44.18 L247.90,43.90 L248.90,43.63 L249.90,43.36 L250.90,43.09 L251.90,42.83 L252.90,42.58 L253.90,42.32 L254.90,42.08 L255.90,41.84 L256.90,41.60 L257.90,41.37 L258.90,41.14 L259.90,40.91 L260.90,40.69 L261.90,40.47 L262.90,40.26 L263.90,40.05 L264.90,39.84 L265.90,39.64 L266.90,39.44 L267.90,39.24 L268.90,39.05 L269.90,38.86 L270.90,38.67 L271.90,38.48 L272.90,38.30 L273.90,38.12 L274.90,37.94 L275.90,37.76 L276.90,37.58 L277.90,37.41 L278.90,37.24 L279.90,37.07 L280.90,36.90 L281.90,36.73 L282.90,36.56 L283.90,36.40 L284.90,36.23 L285.90,36.07 L286.90,35.90 L287.90,35.74 L288.90,35.58 L289.90,35.42 L290.90,35.25 L291.90,35.09 L292.90,34.93 L293.90,34.77 L294.90,34.61 L295.90,34.45 L296.90,34.29 L297.90,34.13 L298.90,33.97 L299.90,33.81 L300.90,33.65 L301.90,33.49 L302.90,33.33 L303.90,33.18 L304.90,33.02 L305.90,32.86 L306.90,32.71 L307.90,32.56 L308.90,32.40 L309.90,32.25 L310.90,32.10 L311.90,31.95 L312.90,31.80 L313.90,31.65 L314.90,31.51 L315.90,31.36 L316.90,31.21 L317.90,31.07 L318.90,30.93 L319.90,30.79 L320.90,30.65 L321.90,30.51 L322.90,30.37 L323.90,30.23 L324.90,30.10 L325.90,29.96 L326.90,29.83 L327.90,29.70 L328.90,29.56 L329.90,29.43 L330.90,29.30 L331.90,29.17 L332.90,29.04 L333.90,28.91 L334.90,28.79 L335.90,28.66 L336.90,28.53 L337.90,28.41 L338.90,28.28 L339.90,28.16 L340.90,28.03 L341.90,27.91 L342.90,27.79 L343.90,27.66 L344.90,27.54 L345.90,27.42 L346.90,27.30 L347.90,27.18 L348.90,27.06 L349.90,26.93 L350.90,26.81 L351.90,26.69 L352.90,26.57 L353.90,26.45 L354.90,26.33 L355.90,26.21" stroke="#f21d1d" stroke-width="1.3" fill="none" stroke-dasharray="1.9,2.3"/>
<path d="M52.90,107.20 L53.90,107.05 L54.90,106.89 L55.90,106.74 L56.90,106.59 L57.90,106.43 L58.90,106.27 L59.90,106.11 L60.90,105.95 L61.90,105.79 L62.90,105.62 L63.90,105.45 L64.90,105.28 L65.90,105.10 L66.90,104.92 L67.90,104.74 L68.90,104.55 L69.90,104.35 L70.90,104.15 L71.90,103.94 L72.90,103.73 L73.90,103.52 L74.90,103.29 L75.90,103.06 L76.90,102.82 L77.90,102.58 L78.90,102.32 L79.90,102.06 L80.90,101.79 L81.90,101.51 L82.90,101.23 L83.90,100.93 L84.90,100.62 L85.90,100.31 L86.90,99.99 L87.90,99.66 L88.90,99.32 L89.90,98.98 L90.90,98.63 L91.90,98.28 L92.90,97.93 L93.90,97.57 L94.90,97.21 L95.90,96.86 L96.90,96.50 L97.90,96.14 L98.90,95.79 L99.90,95.43 L100.90,95.09 L101.90,94.74 L102.90,94.40 L103.90,94.06 L104.90,93.73 L105.90,93.39 L106.90,93.06 L107.90,92.73 L108.90,92.41 L109.90,92.08 L110.90,91.76 L111.90,91.43 L112.90,91.11 L113.90,90.79 L114.90,90.46 L115.90,90.13 L116.90,89.79 L117.90,89.44 L118.90,89.07 L119.90,88.70 L120.90,88.31 L121.90,87.92 L122.90,87.51 L123.90,87.09 L124.90,86.65 L125.90,86.21 L126.90,85.76 L127.90,85.30 L128.90,84.83 L129.90,84.34 L130.90,83.85 L131.90,83.35 L132.90,82.84 L133.90,82.32 L134.90,81.80 L135.90,81.28 L136.90,80.77 L137.90,80.25 L138.90,79.74 L139.90,79.24 L140.90,78.75 L141.90,78.27 L142.90,77.79 L143.90,77.33 L144.90,76.87 L145.90,76.42 L146.90,75.97 L147.90,75.54 L148.90,75.11 L149.90,74.70 L150.90,74.29 L151.90,73.89 L152.90,73.49 L153.90,73.11 L154.90,72.74 L155.90,72.37 L156.90,72.01 L157.90,71.66 L158.90,71.30 L159.90,70.95 L160.90,70.60 L161.90,70.24 L162.90,69.87 L163.90,69.49 L164.90,69.10 L165.90,68.70 L166.90,68.28 L167.90,67.84 L168.90,67.39 L169.90,66.91 L170.90,66.42 L171.90,65.91 L172.90,65.40 L173.90,64.87 L174.90,64.34 L175.90,63.80 L176.90,63.27 L177.90,62.73 L178.90,62.20 L179.90,61.68 L180.90,61.16 L181.90,60.66 L182.90,60.17 L183.90,59.70 L184.90,59.24 L185.90,58.81 L186.90,58.40 L187.90,58.01 L188.90,57.63 L189.90,57.27 L190.90,56.92 L191.90,56.59 L192.90,56.26 L193.90,55.93 L194.90,55.62 L195.90,55.30 L196.90,54.99 L197.90,54.67 L198.90,54.36 L199.90,54.03 L200.90,53.70 L201.90,53.37 L202.90,53.02 L203.90,52.68 L204.90,52.32 L205.90,51.96 L206.90,51.59 L207.90,51.22 L208.90,50.84 L209.90,50.46 L210.90,50.07 L211.90,49.68 L212.90,49.28 L213.90,48.88 L214.90,48.48 L215.90,48.07 L216.90,47.66 L217.90,47.24 L218.90,46.82 L219.90,46.40 L220.90,45.98 L221.90,45.56 L222.90,45.14 L223.90,44.71 L224.90,44.29 L225.90,43.87 L226.90,43.45 L227.90,43.04 L228.90,42.62 L229.90,42.22 L230.90,41.82 L231.90,41.42 L232.90,41.03 L233.90,40.65 L234.90,40.27 L235.90,39.90 L236.90,39.55 L237.90,39.20 L238.90,38.86 L239.90,38.53 L240.90,38.22 L241.90,37.91 L242.90,37.62 L243.90,37.34 L244.90,37.06 L245.90,36.80 L246.90,36.54 L247.90,36.29 L248.90,36.04 L249.90,35.81 L250.90,35.57 L251.90,35.35 L252.90,35.12 L253.90,34.90 L254.90,34.69 L255.90,34.47 L256.90,34.26 L257.90,34.05 L258.90,33.83 L259.90,33.62 L260.90,33.41 L261.90,33.19 L262.90,32.98 L263.90,32.76 L264.90,32.55 L265.90,32.33 L266.90,32.11 L267.90,31.90 L268.90,31.68 L269.90,31.47 L270.90,31.25 L271.90,31.03 L272.90,30.82 L273.90,30.61 L274.90,30.39 L275.90,30.18 L276.90,29.97 L277.90,29.76 L278.90,29.55 L279.90,29.35 L280.90,29.14 L281.90,28.94 L282.90,28.74 L283.90,28.55 L284.90,28.35 L285.90,28.16 L286.90,27.97 L287.90,27.78 L288.90,27.60 L289.90,27.42 L290.90,27.24 L291.90,27.07 L292.90,26.90 L293.90,26.73 L294.90,26.56 L295.90,26.40 L296.90,26.25 L297.90,26.09 L298.90,25.94 L299.90,25.79 L300.90,25.64 L301.90,25.50 L302.90,25.36 L303.90,25.22 L304.90,25.08 L305.90,24.95 L306.90,24.82 L307.90,24.69 L308.90,24.56 L309.90,24.44 L310.90,24.32 L311.90,24.20 L312.90,24.08 L313.90,23.96 L314.90,23.85 L315.90,23.74 L316.90,23.63 L317.90,23.52 L318.90,23.41 L319.90,23.31 L320.90,23.21 L321.90,23.11 L322.90,23.01 L323.90,22.91 L324.90,22.81 L325.90,22.72 L326.90,22.62 L327.90,22.53 L328.90,22.44 L329.90,22.35 L330.90,22.26 L331.90,22.18 L332.90,22.09 L333.90,22.00 L334.90,21.92 L335.90,21.84 L336.90,21.75 L337.90,21.67 L338.90,21.59 L339.90,21.51 L340.90,21.43 L341.90,21.36 L342.90,21.28 L343.90,21.20 L344.90,21.12 L345.90,21.05 L346.90,20.97 L347.90,20.90 L348.90,20.82 L349.90,20.75 L350.90,20.68 L351.90,20.60 L352.90,20.53 L353.90,20.45 L354.90,20.38 L355.90,20.31" stroke="#f21d1d" stroke-width="1.4" fill="none"/>
</g>
<g clip-path="url(#cpb)">
<path d="M52.6,271.0V273.0" stroke="#7fae84" stroke-width="1.1"/>
<path d="M66.9,271.0V274.0" stroke="#7fae84" stroke-width="1.1"/>
<path d="M81.5,268.5V275.0" stroke="#7fae84" stroke-width="1.1"/>
<path d="M95.7,271.0V274.5" stroke="#7fae84" stroke-width="1.1"/>
<path d="M110.3,267.5V275.5" stroke="#7fae84" stroke-width="1.1"/>
<path d="M124.6,264.6V276.4" stroke="#7fae84" stroke-width="1.1"/>
<path d="M139.1,252.8V276.4" stroke="#7fae84" stroke-width="1.1"/>
<path d="M153.4,251.1V276.4" stroke="#7fae84" stroke-width="1.1"/>
<path d="M167.6,244.9V276.4" stroke="#7fae84" stroke-width="1.1"/>
<path d="M182.1,238.6V272.3" stroke="#7fae84" stroke-width="1.1"/>
<path d="M210.8,232.7V263.1" stroke="#7fae84" stroke-width="1.1"/>
<path d="M225.3,234.4V256.3" stroke="#7fae84" stroke-width="1.1"/>
<path d="M52.90,272.30 L53.90,272.32 L54.90,272.34 L55.90,272.36 L56.90,272.38 L57.90,272.40 L58.90,272.42 L59.90,272.44 L60.90,272.46 L61.90,272.48 L62.90,272.49 L63.90,272.51 L64.90,272.53 L65.90,272.55 L66.90,272.56 L67.90,272.58 L68.90,272.59 L69.90,272.61 L70.90,272.62 L71.90,272.63 L72.90,272.65 L73.90,272.66 L74.90,272.67 L75.90,272.67 L76.90,272.68 L77.90,272.69 L78.90,272.70 L79.90,272.70 L80.90,272.70 L81.90,272.71 L82.90,272.71 L83.90,272.71 L84.90,272.71 L85.90,272.70 L86.90,272.70 L87.90,272.70 L88.90,272.69 L89.90,272.69 L90.90,272.69 L91.90,272.68 L92.90,272.67 L93.90,272.67 L94.90,272.66 L95.90,272.66 L96.90,272.65 L97.90,272.64 L98.90,272.64 L99.90,272.63 L100.90,272.63 L101.90,272.62 L102.90,272.62 L103.90,272.61 L104.90,272.61 L105.90,272.60 L106.90,272.60 L107.90,272.60 L108.90,272.60 L109.90,272.60 L110.90,272.60 L111.90,272.59 L112.90,272.56 L113.90,272.49 L114.90,272.39 L115.90,272.22 L116.90,271.99 L117.90,271.70 L118.90,271.36 L119.90,270.99 L120.90,270.60 L121.90,270.20 L122.90,269.80 L123.90,269.41 L124.90,269.04 L125.90,268.68 L126.90,268.35 L127.90,268.02 L128.90,267.71 L129.90,267.41 L130.90,267.12 L131.90,266.84 L132.90,266.57 L133.90,266.30 L134.90,266.03 L135.90,265.77 L136.90,265.51 L137.90,265.24 L138.90,264.98 L139.90,264.71 L140.90,264.43 L141.90,264.16 L142.90,263.87 L143.90,263.58 L144.90,263.29 L145.90,262.99 L146.90,262.70 L147.90,262.40 L148.90,262.09 L149.90,261.79 L150.90,261.49 L151.90,261.18 L152.90,260.88 L153.90,260.58 L154.90,260.28 L155.90,259.98 L156.90,259.69 L157.90,259.40 L158.90,259.11 L159.90,258.82 L160.90,258.54 L161.90,258.27 L162.90,257.99 L163.90,257.72 L164.90,257.46 L165.90,257.20 L166.90,256.94 L167.90,256.69 L168.90,256.44 L169.90,256.19 L170.90,255.95 L171.90,255.71 L172.90,255.48 L173.90,255.25 L174.90,255.02 L175.90,254.80 L176.90,254.58 L177.90,254.37 L178.90,254.16 L179.90,253.96 L180.90,253.76 L181.90,253.56 L182.90,253.36 L183.90,253.17 L184.90,252.98 L185.90,252.79 L186.90,252.60 L187.90,252.42 L188.90,252.24 L189.90,252.06 L190.90,251.88 L191.90,251.70 L192.90,251.52 L193.90,251.35 L194.90,251.17 L195.90,251.00 L196.90,250.82 L197.90,250.65 L198.90,250.48 L199.90,250.30 L200.90,250.13 L201.90,249.95 L202.90,249.77 L203.90,249.60 L204.90,249.42 L205.90,249.24 L206.90,249.06 L207.90,248.87 L208.90,248.69 L209.90,248.50 L210.90,248.32 L211.90,248.13 L212.90,247.94 L213.90,247.76 L214.90,247.57 L215.90,247.38 L216.90,247.19 L217.90,247.00 L218.90,246.82 L219.90,246.63 L220.90,246.44 L221.90,246.25 L222.90,246.07 L223.90,245.88 L224.90,245.69 L225.90,245.51 L226.90,245.33 L227.90,245.15 L228.90,244.97 L229.90,244.79 L230.90,244.61 L231.90,244.43 L232.90,244.26 L233.90,244.09 L234.90,243.92 L235.90,243.75 L236.90,243.58 L237.90,243.42 L238.90,243.26 L239.90,243.10 L240.90,242.94 L241.90,242.78 L242.90,242.63 L243.90,242.48 L244.90,242.33 L245.90,242.18 L246.90,242.03 L247.90,241.88 L248.90,241.73 L249.90,241.59 L250.90,241.45 L251.90,241.30 L252.90,241.16 L253.90,241.02 L254.90,240.88 L255.90,240.74 L256.90,240.60 L257.90,240.47 L258.90,240.33 L259.90,240.19 L260.90,240.06 L261.90,239.92 L262.90,239.78 L263.90,239.65 L264.90,239.51 L265.90,239.38 L266.90,239.24 L267.90,239.11 L268.90,238.97 L269.90,238.84 L270.90,238.70 L271.90,238.57 L272.90,238.44 L273.90,238.31 L274.90,238.17 L275.90,238.04 L276.90,237.91 L277.90,237.78 L278.90,237.66 L279.90,237.53 L280.90,237.40 L281.90,237.28 L282.90,237.16 L283.90,237.03 L284.90,236.91 L285.90,236.80 L286.90,236.68 L287.90,236.56 L288.90,236.45 L289.90,236.34 L290.90,236.23 L291.90,236.12 L292.90,236.01 L293.90,235.91 L294.90,235.81 L295.90,235.71 L296.90,235.61 L297.90,235.52 L298.90,235.43 L299.90,235.34 L300.90,235.25 L301.90,235.16 L302.90,235.08 L303.90,235.00 L304.90,234.92 L305.90,234.84 L306.90,234.76 L307.90,234.68 L308.90,234.61 L309.90,234.54 L310.90,234.46 L311.90,234.39 L312.90,234.33 L313.90,234.26 L314.90,234.19 L315.90,234.12 L316.90,234.06 L317.90,234.00 L318.90,233.93 L319.90,233.87 L320.90,233.81 L321.90,233.75 L322.90,233.69 L323.90,233.63 L324.90,233.57 L325.90,233.51 L326.90,233.45 L327.90,233.39 L328.90,233.33 L329.90,233.27 L330.90,233.21 L331.90,233.15 L332.90,233.10 L333.90,233.04 L334.90,232.98 L335.90,232.92 L336.90,232.87 L337.90,232.81 L338.90,232.75 L339.90,232.70 L340.90,232.64 L341.90,232.58 L342.90,232.53 L343.90,232.47 L344.90,232.42 L345.90,232.36 L346.90,232.30 L347.90,232.25 L348.90,232.19 L349.90,232.14 L350.90,232.08 L351.90,232.03 L352.90,231.97 L353.90,231.92 L354.90,231.86 L355.90,231.81" stroke="#17692b" stroke-width="1.9" fill="none" stroke-dasharray="4.4,2.5"/>
<path d="M52.90,261.60 L53.90,261.57 L54.90,261.53 L55.90,261.50 L56.90,261.47 L57.90,261.44 L58.90,261.40 L59.90,261.37 L60.90,261.34 L61.90,261.31 L62.90,261.28 L63.90,261.25 L64.90,261.21 L65.90,261.18 L66.90,261.15 L67.90,261.12 L68.90,261.09 L69.90,261.06 L70.90,261.04 L71.90,261.01 L72.90,260.98 L73.90,260.95 L74.90,260.93 L75.90,260.90 L76.90,260.87 L77.90,260.85 L78.90,260.83 L79.90,260.80 L80.90,260.78 L81.90,260.76 L82.90,260.74 L83.90,260.72 L84.90,260.69 L85.90,260.67 L86.90,260.65 L87.90,260.64 L88.90,260.62 L89.90,260.60 L90.90,260.58 L91.90,260.56 L92.90,260.54 L93.90,260.52 L94.90,260.50 L95.90,260.48 L96.90,260.46 L97.90,260.43 L98.90,260.41 L99.90,260.39 L100.90,260.36 L101.90,260.34 L102.90,260.31 L103.90,260.29 L104.90,260.26 L105.90,260.23 L106.90,260.20 L107.90,260.17 L108.90,260.14 L109.90,260.10 L110.90,260.07 L111.90,260.03 L112.90,259.99 L113.90,259.96 L114.90,259.92 L115.90,259.88 L116.90,259.84 L117.90,259.80 L118.90,259.77 L119.90,259.73 L120.90,259.70 L121.90,259.67 L122.90,259.64 L123.90,259.62 L124.90,259.58 L125.90,259.55 L126.90,259.51 L127.90,259.47 L128.90,259.42 L129.90,259.35 L130.90,259.28 L131.90,259.20 L132.90,259.10 L133.90,259.00 L134.90,258.87 L135.90,258.74 L136.90,258.60 L137.90,258.45 L138.90,258.28 L139.90,258.11 L140.90,257.93 L141.90,257.74 L142.90,257.55 L143.90,257.35 L144.90,257.14 L145.90,256.92 L146.90,256.70 L147.90,256.48 L148.90,256.25 L149.90,256.02 L150.90,255.79 L151.90,255.55 L152.90,255.32 L153.90,255.08 L154.90,254.83 L155.90,254.59 L156.90,254.34 L157.90,254.10 L158.90,253.85 L159.90,253.60 L160.90,253.36 L161.90,253.11 L162.90,252.86 L163.90,252.62 L164.90,252.37 L165.90,252.13 L166.90,251.88 L167.90,251.64 L168.90,251.40 L169.90,251.16 L170.90,250.92 L171.90,250.67 L172.90,250.43 L173.90,250.18 L174.90,249.93 L175.90,249.67 L176.90,249.41 L177.90,249.15 L178.90,248.88 L179.90,248.61 L180.90,248.34 L181.90,248.06 L182.90,247.78 L183.90,247.50 L184.90,247.22 L185.90,246.94 L186.90,246.66 L187.90,246.37 L188.90,246.09 L189.90,245.80 L190.90,245.52 L191.90,245.23 L192.90,244.94 L193.90,244.66 L194.90,244.37 L195.90,244.09 L196.90,243.81 L197.90,243.53 L198.90,243.25 L199.90,242.97 L200.90,242.70 L201.90,242.42 L202.90,242.16 L203.90,241.89 L204.90,241.63 L205.90,241.37 L206.90,241.11 L207.90,240.86 L208.90,240.61 L209.90,240.36 L210.90,240.12 L211.90,239.88 L212.90,239.64 L213.90,239.40 L214.90,239.17 L215.90,238.94 L216.90,238.71 L217.90,238.49 L218.90,238.26 L219.90,238.04 L220.90,237.82 L221.90,237.60 L222.90,237.38 L223.90,237.16 L224.90,236.95 L225.90,236.73 L226.90,236.52 L227.90,236.30 L228.90,236.09 L229.90,235.88 L230.90,235.67 L231.90,235.46 L232.90,235.24 L233.90,235.03 L234.90,234.82 L235.90,234.61 L236.90,234.40 L237.90,234.18 L238.90,233.97 L239.90,233.76 L240.90,233.55 L241.90,233.33 L242.90,233.12 L243.90,232.91 L244.90,232.70 L245.90,232.49 L246.90,232.28 L247.90,232.07 L248.90,231.86 L249.90,231.65 L250.90,231.44 L251.90,231.23 L252.90,231.02 L253.90,230.82 L254.90,230.61 L255.90,230.41 L256.90,230.20 L257.90,230.00 L258.90,229.80 L259.90,229.60 L260.90,229.40 L261.90,229.20 L262.90,229.01 L263.90,228.81 L264.90,228.62 L265.90,228.43 L266.90,228.24 L267.90,228.05 L268.90,227.86 L269.90,227.68 L270.90,227.50 L271.90,227.32 L272.90,227.14 L273.90,226.96 L274.90,226.78 L275.90,226.61 L276.90,226.43 L277.90,226.26 L278.90,226.09 L279.90,225.93 L280.90,225.76 L281.90,225.60 L282.90,225.43 L283.90,225.27 L284.90,225.11 L285.90,224.95 L286.90,224.80 L287.90,224.64 L288.90,224.49 L289.90,224.34 L290.90,224.19 L291.90,224.05 L292.90,223.90 L293.90,223.76 L294.90,223.61 L295.90,223.47 L296.90,223.34 L297.90,223.20 L298.90,223.06 L299.90,222.93 L300.90,222.80 L301.90,222.67 L302.90,222.54 L303.90,222.41 L304.90,222.28 L305.90,222.16 L306.90,222.04 L307.90,221.92 L308.90,221.79 L309.90,221.68 L310.90,221.56 L311.90,221.44 L312.90,221.32 L313.90,221.21 L314.90,221.10 L315.90,220.98 L316.90,220.87 L317.90,220.76 L318.90,220.65 L319.90,220.54 L320.90,220.44 L321.90,220.33 L322.90,220.22 L323.90,220.12 L324.90,220.01 L325.90,219.91 L326.90,219.81 L327.90,219.70 L328.90,219.60 L329.90,219.50 L330.90,219.40 L331.90,219.30 L332.90,219.20 L333.90,219.10 L334.90,219.00 L335.90,218.91 L336.90,218.81 L337.90,218.71 L338.90,218.61 L339.90,218.52 L340.90,218.42 L341.90,218.33 L342.90,218.23 L343.90,218.14 L344.90,218.04 L345.90,217.95 L346.90,217.85 L347.90,217.76 L348.90,217.66 L349.90,217.57 L350.90,217.48 L351.90,217.38 L352.90,217.29 L353.90,217.20 L354.90,217.10 L355.90,217.01" stroke="#f21d1d" stroke-width="1.5" fill="none"/>
<rect x="50.7" y="270.1" width="3.8" height="3.8" fill="#17692b"/>
<rect x="65.0" y="270.6" width="3.8" height="3.8" fill="#17692b"/>
<rect x="79.6" y="269.8" width="3.8" height="3.8" fill="#17692b"/>
<rect x="93.8" y="271.0" width="3.8" height="3.8" fill="#17692b"/>
<rect x="108.4" y="270.1" width="3.8" height="3.8" fill="#17692b"/>
<rect x="122.7" y="269.5" width="3.8" height="3.8" fill="#17692b"/>
<rect x="137.2" y="270.0" width="3.8" height="3.8" fill="#17692b"/>
<rect x="151.5" y="266.6" width="3.8" height="3.8" fill="#17692b"/>
<rect x="165.7" y="259.9" width="3.8" height="3.8" fill="#17692b"/>
<rect x="180.2" y="253.6" width="3.8" height="3.8" fill="#17692b"/>
<rect x="208.9" y="246.0" width="3.8" height="3.8" fill="#17692b"/>
<rect x="223.4" y="243.5" width="3.8" height="3.8" fill="#17692b"/>
<circle cx="52.8" cy="261.9" r="1.9" fill="#f21d1d"/>
<circle cx="66.9" cy="262.1" r="1.9" fill="#f21d1d"/>
<circle cx="81.5" cy="259.6" r="1.9" fill="#f21d1d"/>
<circle cx="95.7" cy="259.4" r="1.9" fill="#f21d1d"/>
<circle cx="110.3" cy="259.8" r="1.9" fill="#f21d1d"/>
<circle cx="124.6" cy="259.6" r="1.9" fill="#f21d1d"/>
<circle cx="139.1" cy="258.7" r="1.9" fill="#f21d1d"/>
<path d="M245.6,211.1V226.3" stroke="#f21d1d" stroke-width="0.9"/>
<circle cx="245.6" cy="219.0" r="1.9" fill="#f21d1d"/>
<path d="M267.5,209.9V225.1" stroke="#f21d1d" stroke-width="0.9"/>
<circle cx="267.5" cy="217.3" r="1.9" fill="#f21d1d"/>
<path d="M279.7,212.8V227.4" stroke="#f21d1d" stroke-width="0.9"/>
<circle cx="279.7" cy="220.4" r="1.9" fill="#f21d1d"/>
<path d="M293.2,210.2V225.4" stroke="#f21d1d" stroke-width="0.9"/>
<circle cx="293.2" cy="217.8" r="1.9" fill="#f21d1d"/>
<path d="M305.3,208.2V222.0" stroke="#f21d1d" stroke-width="0.9"/>
<circle cx="305.3" cy="215.6" r="1.9" fill="#f21d1d"/>
<path d="M321.3,206.9V222.0" stroke="#f21d1d" stroke-width="0.9"/>
<circle cx="321.3" cy="215.0" r="1.9" fill="#f21d1d"/>
<path d="M333.4,208.9V224.6" stroke="#f21d1d" stroke-width="0.9"/>
<circle cx="333.4" cy="216.6" r="1.9" fill="#f21d1d"/>
<path d="M346.3,210.2V225.8" stroke="#f21d1d" stroke-width="0.9"/>
<circle cx="346.3" cy="217.8" r="1.9" fill="#f21d1d"/>
</g>
<g clip-path="url(#cpc)">
<path d="M84.90,379.20 L84.90,379.36 L85.40,379.64 L85.90,379.90 L86.40,380.16 L86.90,380.41 L87.40,380.66 L87.90,380.91 L88.40,381.16 L88.90,381.41 L89.40,381.67 L89.90,381.94 L90.40,382.21 L90.90,382.50 L91.40,382.81 L91.90,383.13 L92.40,383.48 L92.90,383.84 L93.40,384.22 L93.90,384.62 L94.40,385.04 L94.90,385.47 L95.40,385.92 L95.90,386.38 L96.40,386.85 L96.90,387.33 L97.40,387.82 L97.90,388.32 L98.40,388.83 L98.90,389.34 L99.40,389.87 L99.90,390.39 L100.40,390.92 L100.90,391.45 L101.40,391.97 L101.90,392.50 L102.40,393.02 L102.90,393.54 L103.40,394.05 L103.90,394.54 L104.40,395.03 L104.90,395.50 L105.40,395.96 L105.90,396.40 L106.40,396.82 L106.90,397.22 L107.40,397.60 L107.90,397.98 L108.40,398.35 L108.90,398.73 L109.40,399.12 L109.90,399.54 L110.40,399.98 L110.90,400.45 L111.40,400.95 L111.90,401.47 L112.40,402.01 L112.90,402.55 L113.40,403.11 L113.90,403.66 L114.40,404.21 L114.90,404.76 L115.40,405.29 L115.90,405.80 L116.40,406.29 L116.90,406.76 L117.40,407.21 L117.90,407.65 L118.40,408.07 L118.90,408.48 L119.40,408.89 L119.90,409.28 L120.40,409.68 L120.90,410.07 L121.40,410.46 L121.90,410.85 L122.40,411.23 L122.90,411.59 L123.40,411.94 L123.90,412.28 L124.40,412.60 L124.90,412.90 L125.40,413.18 L125.90,413.44 L126.40,413.68 L126.90,413.91 L127.40,414.12 L127.90,414.31 L128.40,414.49 L128.90,414.66 L129.40,414.81 L129.90,414.96 L130.40,415.09 L130.90,415.21 L131.40,415.32 L131.90,415.43 L132.40,415.53 L132.90,415.62 L133.40,415.70 L133.90,415.78 L134.40,415.86 L134.90,415.93 L135.40,415.99 L135.90,416.05 L136.40,416.11 L136.90,416.16 L137.40,416.21 L137.90,416.26 L138.40,416.30 L138.90,416.34 L139.40,416.38 L139.90,416.41 L140.40,416.45 L140.90,416.48 L141.40,416.51 L141.90,416.53 L142.40,416.56 L142.90,416.58 L143.40,416.59 L143.90,416.59 L144.40,416.59 L144.90,416.58 L145.40,416.55 L145.90,416.51 L146.40,416.45 L146.90,416.38 L147.40,416.30 L147.90,416.21 L148.40,416.10 L148.90,415.98 L149.40,415.85 L149.90,415.72 L150.40,415.58 L150.90,415.43 L151.40,415.28 L151.90,415.12 L152.40,414.96 L152.90,414.80 L153.40,414.63 L153.90,414.47 L154.40,414.31 L154.90,414.15 L155.40,413.98 L155.90,413.82 L156.40,413.66 L156.90,413.49 L157.40,413.33 L157.90,413.16 L158.40,413.00 L158.90,412.83 L159.40,412.67 L159.90,412.50 L160.40,412.33 L160.90,412.17 L161.40,412.00 L161.90,411.83 L162.40,411.66 L162.90,411.49 L163.40,411.32 L163.90,411.16 L164.40,410.99 L164.90,410.82 L165.40,410.65 L165.90,410.49 L166.40,410.32 L166.90,410.16 L167.40,409.99 L167.90,409.83 L168.40,409.67 L168.90,409.51 L169.40,409.36 L169.90,409.20 L170.40,409.04 L170.90,408.89 L171.40,408.74 L171.90,408.58 L172.40,408.43 L172.90,408.28 L173.40,408.12 L173.90,407.97 L174.40,407.82 L174.90,407.66 L175.40,407.51 L175.90,407.36 L176.40,407.20 L176.90,407.04 L177.40,406.89 L177.90,406.73 L178.40,406.57 L178.90,406.41 L179.40,406.24 L179.90,406.08 L180.40,405.91 L180.90,405.74 L181.40,405.57 L181.90,405.40 L182.40,405.22 L182.90,405.05 L183.40,404.86 L183.90,404.68 L184.40,404.50 L184.90,404.31 L185.40,404.12 L185.90,403.93 L186.40,403.74 L186.90,403.54 L187.40,403.35 L187.90,403.15 L188.40,402.95 L188.90,402.75 L189.40,402.55 L189.90,402.34 L190.40,402.14 L190.90,401.94 L191.40,401.73 L191.90,401.52 L192.40,401.32 L192.90,401.11 L193.40,400.90 L193.90,400.69 L194.40,400.49 L194.90,400.28 L195.40,400.07 L195.90,399.86 L196.40,399.65 L196.90,399.45 L197.40,399.24 L197.90,399.03 L198.40,398.82 L198.90,398.62 L199.40,398.41 L199.90,398.21 L200.40,398.00 L200.90,397.80 L201.40,397.60 L201.90,397.39 L202.40,397.19 L202.90,396.99 L203.40,396.79 L203.90,396.59 L204.40,396.39 L204.90,396.19 L205.40,395.99 L205.90,395.79 L206.40,395.59 L206.90,395.39 L207.40,395.19 L207.90,394.99 L208.40,394.79 L208.90,394.59 L209.40,394.39 L209.90,394.19 L210.40,393.99 L210.90,393.79 L211.40,393.59 L211.90,393.39 L212.40,393.19 L212.90,392.99 L213.40,392.79 L213.90,392.59 L214.40,392.39 L214.90,392.18 L215.40,391.98 L215.90,391.78 L216.40,391.57 L216.90,391.37 L217.40,391.17 L217.90,390.96 L218.40,390.76 L218.90,390.56 L219.40,390.36 L219.90,390.16 L220.40,389.97 L220.90,389.77 L221.40,389.58 L221.90,389.39 L222.40,389.21 L222.90,389.02 L223.40,388.85 L223.90,388.67 L224.40,388.50 L224.90,388.33 L225.40,388.17 L225.90,388.01 L226.40,387.86 L226.90,387.71 L227.40,387.57 L227.90,387.43 L228.40,387.29 L228.90,387.15 L229.40,387.02 L229.90,386.89 L230.40,386.77 L230.90,386.65 L231.40,386.53 L231.90,386.41 L232.40,386.29 L232.90,386.17 L233.40,386.06 L233.90,385.95 L234.40,385.84 L234.90,385.73 L235.40,385.62 L235.90,385.51 L236.40,385.40 L236.90,385.29 L237.40,385.18 L237.90,385.07 L238.40,384.96 L238.90,384.85 L239.40,384.74 L239.90,384.62 L240.40,384.51 L240.90,384.39 L241.40,384.27 L241.90,384.15 L242.40,384.03 L242.90,383.90 L243.40,383.77 L243.90,383.64 L244.40,383.51 L244.90,383.37 L245.40,383.24 L245.90,383.10 L246.40,382.95 L246.90,382.81 L247.40,382.66 L247.90,382.52 L248.40,382.37 L248.90,382.22 L249.40,382.07 L249.90,381.93 L250.40,381.78 L250.90,381.63 L251.40,381.48 L251.90,381.33 L252.40,381.18 L252.90,381.03 L253.40,380.89 L253.90,380.74 L254.40,380.60 L254.90,380.46 L255.40,380.32 L255.90,380.18 L256.40,380.05 L256.90,379.91 L257.40,379.78 L257.90,379.65 L258.40,379.53 L258.90,379.40 L259.40,379.28 L259.40,379.20Z" fill="#5cb8d0" fill-opacity="0.58"/>
<path d="M52.90,379.20 L52.90,363.60 L53.40,363.69 L53.90,363.78 L54.40,363.88 L54.90,363.97 L55.40,364.06 L55.90,364.16 L56.40,364.26 L56.90,364.35 L57.40,364.45 L57.90,364.56 L58.40,364.66 L58.90,364.77 L59.40,364.88 L59.90,364.99 L60.40,365.11 L60.90,365.22 L61.40,365.35 L61.90,365.47 L62.40,365.60 L62.90,365.74 L63.40,365.88 L63.90,366.03 L64.40,366.18 L64.90,366.33 L65.40,366.50 L65.90,366.67 L66.40,366.85 L66.90,367.04 L67.40,367.23 L67.90,367.44 L68.40,367.65 L68.90,367.88 L69.40,368.11 L69.90,368.36 L70.40,368.61 L70.90,368.88 L71.40,369.16 L71.90,369.46 L72.40,369.76 L72.90,370.08 L73.40,370.41 L73.90,370.76 L74.40,371.13 L74.90,371.50 L75.40,371.90 L75.90,372.30 L76.40,372.71 L76.90,373.13 L77.40,373.56 L77.90,373.99 L78.40,374.43 L78.90,374.86 L79.40,375.29 L79.90,375.72 L80.40,376.14 L80.90,376.55 L81.40,376.96 L81.90,377.35 L82.40,377.73 L82.90,378.09 L83.40,378.43 L83.90,378.76 L84.40,379.07 L84.40,379.20Z" fill="#f59d1c" fill-opacity="1.0"/>
<path d="M259.90,379.20 L259.90,379.16 L260.40,379.05 L260.90,378.93 L261.40,378.82 L261.90,378.71 L262.40,378.60 L262.90,378.49 L263.40,378.39 L263.90,378.28 L264.40,378.18 L264.90,378.08 L265.40,377.99 L265.90,377.89 L266.40,377.80 L266.90,377.71 L267.40,377.62 L267.90,377.53 L268.40,377.44 L268.90,377.36 L269.40,377.28 L269.90,377.20 L270.40,377.12 L270.90,377.04 L271.40,376.96 L271.90,376.88 L272.40,376.81 L272.90,376.73 L273.40,376.66 L273.90,376.59 L274.40,376.51 L274.90,376.44 L275.40,376.37 L275.90,376.30 L276.40,376.23 L276.90,376.16 L277.40,376.09 L277.90,376.02 L278.40,375.95 L278.90,375.88 L279.40,375.81 L279.90,375.74 L280.40,375.67 L280.90,375.60 L281.40,375.53 L281.90,375.46 L282.40,375.39 L282.90,375.32 L283.40,375.24 L283.90,375.17 L284.40,375.09 L284.90,375.02 L285.40,374.94 L285.90,374.86 L286.40,374.78 L286.90,374.70 L287.40,374.62 L287.90,374.53 L288.40,374.45 L288.90,374.37 L289.40,374.28 L289.90,374.19 L290.40,374.11 L290.90,374.02 L291.40,373.93 L291.90,373.84 L292.40,373.76 L292.90,373.67 L293.40,373.58 L293.90,373.49 L294.40,373.40 L294.90,373.31 L295.40,373.22 L295.90,373.13 L296.40,373.03 L296.90,372.94 L297.40,372.85 L297.90,372.76 L298.40,372.67 L298.90,372.58 L299.40,372.49 L299.90,372.40 L300.40,372.31 L300.90,372.22 L301.40,372.14 L301.90,372.05 L302.40,371.96 L302.90,371.87 L303.40,371.79 L303.90,371.70 L304.40,371.62 L304.90,371.53 L305.40,371.45 L305.90,371.37 L306.40,371.29 L306.90,371.21 L307.40,371.13 L307.90,371.05 L308.40,370.97 L308.90,370.89 L309.40,370.82 L309.90,370.74 L310.40,370.67 L310.90,370.59 L311.40,370.52 L311.90,370.45 L312.40,370.38 L312.90,370.31 L313.40,370.24 L313.90,370.17 L314.40,370.10 L314.90,370.03 L315.40,369.97 L315.90,369.90 L316.40,369.84 L316.90,369.77 L317.40,369.71 L317.90,369.65 L318.40,369.59 L318.90,369.53 L319.40,369.46 L319.90,369.40 L320.40,369.35 L320.90,369.29 L321.40,369.23 L321.90,369.17 L322.40,369.12 L322.90,369.06 L323.40,369.00 L323.90,368.95 L324.40,368.90 L324.90,368.84 L325.40,368.79 L325.90,368.74 L326.40,368.69 L326.90,368.63 L327.40,368.58 L327.90,368.53 L328.40,368.48 L328.90,368.44 L329.40,368.39 L329.90,368.34 L330.40,368.29 L330.90,368.24 L331.40,368.20 L331.90,368.15 L332.40,368.11 L332.90,368.06 L333.40,368.02 L333.90,367.97 L334.40,367.93 L334.90,367.89 L335.40,367.84 L335.90,367.80 L336.40,367.76 L336.90,367.72 L337.40,367.67 L337.90,367.63 L338.40,367.59 L338.90,367.55 L339.40,367.51 L339.90,367.47 L340.40,367.43 L340.90,367.39 L341.40,367.35 L341.90,367.32 L342.40,367.28 L342.90,367.24 L343.40,367.20 L343.90,367.16 L344.40,367.13 L344.90,367.09 L345.40,367.05 L345.90,367.01 L346.40,366.98 L346.90,366.94 L347.40,366.91 L347.90,366.87 L348.40,366.83 L348.90,366.80 L349.40,366.76 L349.90,366.73 L350.40,366.69 L350.90,366.66 L351.40,366.62 L351.90,366.59 L352.40,366.55 L352.90,366.52 L353.40,366.48 L353.90,366.45 L354.40,366.41 L354.90,366.38 L355.40,366.34 L355.90,366.31 L356.40,366.27 L356.40,379.20Z" fill="#f59d1c" fill-opacity="1.0"/>
<path d="M52.9,352.9V384.2" stroke="#bdbdbd" stroke-width="0.9" stroke-opacity="0.75"/>
<path d="M57.5,350.1V383.8" stroke="#bdbdbd" stroke-width="0.9" stroke-opacity="0.75"/>
<path d="M62.0,350.4V382.7" stroke="#bdbdbd" stroke-width="0.9" stroke-opacity="0.75"/>
<path d="M66.6,352.8V386.5" stroke="#bdbdbd" stroke-width="0.9" stroke-opacity="0.75"/>
<path d="M71.2,355.8V387.5" stroke="#bdbdbd" stroke-width="0.9" stroke-opacity="0.75"/>
<path d="M75.7,360.6V388.5" stroke="#bdbdbd" stroke-width="0.9" stroke-opacity="0.75"/>
<path d="M80.3,362.7V398.7" stroke="#bdbdbd" stroke-width="0.9" stroke-opacity="0.75"/>
<path d="M84.9,367.4V397.9" stroke="#bdbdbd" stroke-width="0.9" stroke-opacity="0.75"/>
<path d="M89.4,367.8V403.4" stroke="#bdbdbd" stroke-width="0.9" stroke-opacity="0.75"/>
<path d="M94.0,369.1V402.7" stroke="#bdbdbd" stroke-width="0.9" stroke-opacity="0.75"/>
<path d="M98.6,376.3V403.1" stroke="#bdbdbd" stroke-width="0.9" stroke-opacity="0.75"/>
<path d="M103.2,378.5V406.4" stroke="#bdbdbd" stroke-width="0.9" stroke-opacity="0.75"/>
<path d="M107.7,381.1V407.6" stroke="#bdbdbd" stroke-width="0.9" stroke-opacity="0.75"/>
<path d="M112.3,386.0V413.2" stroke="#bdbdbd" stroke-width="0.9" stroke-opacity="0.75"/>
<path d="M116.9,383.8V414.2" stroke="#bdbdbd" stroke-width="0.9" stroke-opacity="0.75"/>
<path d="M121.4,384.5V415.2" stroke="#bdbdbd" stroke-width="0.9" stroke-opacity="0.75"/>
<path d="M126.0,394.5V422.0" stroke="#bdbdbd" stroke-width="0.9" stroke-opacity="0.75"/>
<path d="M130.6,395.1V420.3" stroke="#bdbdbd" stroke-width="0.9" stroke-opacity="0.75"/>
<path d="M135.1,392.2V421.0" stroke="#bdbdbd" stroke-width="0.9" stroke-opacity="0.75"/>
<path d="M139.7,396.3V426.0" stroke="#bdbdbd" stroke-width="0.9" stroke-opacity="0.75"/>
<path d="M144.3,401.0V430.0" stroke="#bdbdbd" stroke-width="0.9" stroke-opacity="0.75"/>
<path d="M148.8,399.8V432.2" stroke="#bdbdbd" stroke-width="0.9" stroke-opacity="0.75"/>
<path d="M153.4,403.7V431.6" stroke="#bdbdbd" stroke-width="0.9" stroke-opacity="0.75"/>
<path d="M158.0,397.8V430.8" stroke="#bdbdbd" stroke-width="0.9" stroke-opacity="0.75"/>
<path d="M162.5,388.7V421.4" stroke="#bdbdbd" stroke-width="0.9" stroke-opacity="0.75"/>
<path d="M167.1,385.1V416.3" stroke="#bdbdbd" stroke-width="0.9" stroke-opacity="0.75"/>
<path d="M171.7,388.6V423.8" stroke="#bdbdbd" stroke-width="0.9" stroke-opacity="0.75"/>
<path d="M176.2,387.6V423.8" stroke="#bdbdbd" stroke-width="0.9" stroke-opacity="0.75"/>
<path d="M180.8,387.7V420.7" stroke="#bdbdbd" stroke-width="0.9" stroke-opacity="0.75"/>
<path d="M185.4,388.3V422.6" stroke="#bdbdbd" stroke-width="0.9" stroke-opacity="0.75"/>
<path d="M190.0,386.4V421.9" stroke="#bdbdbd" stroke-width="0.9" stroke-opacity="0.75"/>
<path d="M194.5,379.7V420.9" stroke="#bdbdbd" stroke-width="0.9" stroke-opacity="0.75"/>
<path d="M199.1,382.1V424.9" stroke="#bdbdbd" stroke-width="0.9" stroke-opacity="0.75"/>
<path d="M203.7,383.3V424.5" stroke="#bdbdbd" stroke-width="0.9" stroke-opacity="0.75"/>
<path d="M208.2,378.7V415.0" stroke="#bdbdbd" stroke-width="0.9" stroke-opacity="0.75"/>
<path d="M212.8,379.1V420.2" stroke="#bdbdbd" stroke-width="0.9" stroke-opacity="0.75"/>
<path d="M217.4,375.9V424.0" stroke="#bdbdbd" stroke-width="0.9" stroke-opacity="0.75"/>
<path d="M221.9,367.8V411.8" stroke="#bdbdbd" stroke-width="0.9" stroke-opacity="0.75"/>
<path d="M226.5,362.0V408.2" stroke="#bdbdbd" stroke-width="0.9" stroke-opacity="0.75"/>
<path d="M231.1,363.3V408.6" stroke="#bdbdbd" stroke-width="0.9" stroke-opacity="0.75"/>
<path d="M235.6,369.7V416.4" stroke="#bdbdbd" stroke-width="0.9" stroke-opacity="0.75"/>
<path d="M240.2,363.9V419.0" stroke="#bdbdbd" stroke-width="0.9" stroke-opacity="0.75"/>
<path d="M244.8,359.4V408.6" stroke="#bdbdbd" stroke-width="0.9" stroke-opacity="0.75"/>
<path d="M249.3,362.1V413.8" stroke="#bdbdbd" stroke-width="0.9" stroke-opacity="0.75"/>
<path d="M253.9,367.6V408.4" stroke="#bdbdbd" stroke-width="0.9" stroke-opacity="0.75"/>
<path d="M258.5,364.4V404.6" stroke="#bdbdbd" stroke-width="0.9" stroke-opacity="0.75"/>
<path d="M263.0,352.9V405.5" stroke="#bdbdbd" stroke-width="0.9" stroke-opacity="0.75"/>
<path d="M267.6,360.9V409.0" stroke="#bdbdbd" stroke-width="0.9" stroke-opacity="0.75"/>
<path d="M272.2,357.8V419.4" stroke="#bdbdbd" stroke-width="0.9" stroke-opacity="0.75"/>
<path d="M276.7,350.1V413.4" stroke="#bdbdbd" stroke-width="0.9" stroke-opacity="0.75"/>
<path d="M281.3,356.1V408.4" stroke="#bdbdbd" stroke-width="0.9" stroke-opacity="0.75"/>
<path d="M285.9,365.4V409.0" stroke="#bdbdbd" stroke-width="0.9" stroke-opacity="0.75"/>
<path d="M290.5,360.1V412.9" stroke="#bdbdbd" stroke-width="0.9" stroke-opacity="0.75"/>
<path d="M295.0,368.7V411.0" stroke="#bdbdbd" stroke-width="0.9" stroke-opacity="0.75"/>
<path d="M299.6,360.1V409.5" stroke="#bdbdbd" stroke-width="0.9" stroke-opacity="0.75"/>
<path d="M304.2,359.8V412.0" stroke="#bdbdbd" stroke-width="0.9" stroke-opacity="0.75"/>
<path d="M308.7,360.7V417.4" stroke="#bdbdbd" stroke-width="0.9" stroke-opacity="0.75"/>
<path d="M313.3,375.4V415.5" stroke="#bdbdbd" stroke-width="0.9" stroke-opacity="0.75"/>
<path d="M317.9,373.0V425.0" stroke="#bdbdbd" stroke-width="0.9" stroke-opacity="0.75"/>
<path d="M322.4,373.1V423.2" stroke="#bdbdbd" stroke-width="0.9" stroke-opacity="0.75"/>
<path d="M327.0,368.3V416.2" stroke="#bdbdbd" stroke-width="0.9" stroke-opacity="0.75"/>
<path d="M331.6,379.3V429.6" stroke="#bdbdbd" stroke-width="0.9" stroke-opacity="0.75"/>
<path d="M336.1,377.1V414.2" stroke="#bdbdbd" stroke-width="0.9" stroke-opacity="0.75"/>
<path d="M340.7,365.4V414.7" stroke="#bdbdbd" stroke-width="0.9" stroke-opacity="0.75"/>
<path d="M345.3,369.6V413.9" stroke="#bdbdbd" stroke-width="0.9" stroke-opacity="0.75"/>
<path d="M349.8,370.3V410.8" stroke="#bdbdbd" stroke-width="0.9" stroke-opacity="0.75"/>
<path d="M354.4,361.1V415.4" stroke="#bdbdbd" stroke-width="0.9" stroke-opacity="0.75"/>
<path d="M83.00,379.20 L83.50,379.20 L84.00,379.20 L84.50,379.20 L85.00,379.41 L85.50,379.69 L86.00,379.96 L86.50,380.21 L87.00,380.46 L87.50,380.71 L88.00,380.96 L88.50,381.21 L89.00,381.46 L89.50,381.72 L90.00,381.99 L90.50,382.27 L91.00,382.56 L91.50,382.87 L92.00,383.20 L92.50,383.55 L93.00,383.91 L93.50,384.30 L94.00,384.70 L94.50,385.12 L95.00,385.56 L95.50,386.01 L96.00,386.47 L96.50,386.94 L97.00,387.43 L97.50,387.92 L98.00,388.42 L98.50,388.93 L99.00,389.45 L99.50,389.97 L100.00,390.49 L100.50,391.02 L101.00,391.55 L101.50,392.08 L102.00,392.61 L102.50,393.13 L103.00,393.64 L103.50,394.15 L104.00,394.64 L104.50,395.13 L105.00,395.60 L105.50,396.05 L106.00,396.48 L106.50,396.90 L107.00,397.30 L107.50,397.68 L108.00,398.05 L108.50,398.43 L109.00,398.81 L109.50,399.20 L110.00,399.62 L110.50,400.07 L111.00,400.55 L111.50,401.05 L112.00,401.58 L112.50,402.11 L113.00,402.66 L113.50,403.22 L114.00,403.77 L114.50,404.32 L115.00,404.86 L115.50,405.39 L116.00,405.90 L116.50,406.39 L117.00,406.85 L117.50,407.30 L118.00,407.73 L118.50,408.15 L119.00,408.56 L119.50,408.97 L120.00,409.36 L120.50,409.76 L121.00,410.15 L121.50,410.54 L121.50,413.97 L121.00,413.67 L120.50,413.36 L120.00,413.06 L119.50,412.75 L119.00,412.43 L118.50,412.11 L118.00,411.77 L117.50,411.43 L117.00,411.07 L116.50,410.69 L116.00,410.16 L115.50,409.62 L115.00,409.06 L114.50,408.48 L114.00,407.90 L113.50,407.31 L113.00,406.72 L112.50,406.13 L112.00,405.56 L111.50,405.00 L111.00,404.47 L110.50,403.95 L110.00,403.47 L109.50,403.01 L109.00,402.58 L108.50,402.17 L108.00,401.76 L107.50,401.35 L107.00,400.93 L106.50,400.50 L106.00,400.08 L105.50,399.65 L105.00,399.20 L104.50,398.73 L104.00,398.24 L103.50,397.75 L103.00,397.24 L102.50,396.73 L102.00,396.21 L101.50,395.68 L101.00,395.15 L100.50,394.62 L100.00,394.09 L99.50,393.57 L99.00,393.05 L98.50,392.53 L98.00,392.02 L97.50,391.52 L97.00,391.03 L96.50,390.54 L96.00,390.07 L95.50,389.61 L95.00,389.16 L94.50,388.72 L94.00,388.30 L93.50,387.90 L93.00,387.51 L92.50,387.15 L92.00,386.80 L91.50,386.47 L91.00,386.16 L90.50,385.87 L90.00,385.59 L89.50,385.32 L89.00,385.06 L88.50,384.81 L88.00,384.56 L87.50,384.30 L87.00,384.03 L86.50,383.77 L86.00,383.49 L85.50,383.21 L85.00,382.92 L84.50,382.62 L84.00,382.30 L83.50,381.96 L83.00,381.61Z" fill="#fff" fill-opacity="0.85"/>
<path d="M50,378.6H356" stroke="#c4c4c4" stroke-width="1.2" stroke-dasharray="4.5,4.6"/>
<path d="M52.90,368.80 L53.90,369.18 L54.90,369.57 L55.90,369.94 L56.90,370.32 L57.90,370.69 L58.90,371.05 L59.90,371.41 L60.90,371.75 L61.90,372.09 L62.90,372.41 L63.90,372.71 L64.90,373.01 L65.90,373.30 L66.90,373.58 L67.90,373.87 L68.90,374.16 L69.90,374.45 L70.90,374.76 L71.90,375.08 L72.90,375.42 L73.90,375.79 L74.90,376.18 L75.90,376.60 L76.90,377.06 L77.90,377.56 L78.90,378.09 L79.90,378.68 L80.90,379.31 L81.90,379.99 L82.90,380.72 L83.90,381.48 L84.90,382.28 L85.90,383.11 L86.90,383.97 L87.90,384.85 L88.90,385.75 L89.90,386.67 L90.90,387.60 L91.90,388.53 L92.90,389.47 L93.90,390.41 L94.90,391.34 L95.90,392.27 L96.90,393.20 L97.90,394.13 L98.90,395.07 L99.90,396.00 L100.90,396.95 L101.90,397.91 L102.90,398.88 L103.90,399.86 L104.90,400.86 L105.90,401.88 L106.90,402.92 L107.90,403.98 L108.90,405.05 L109.90,406.13 L110.90,407.22 L111.90,408.30 L112.90,409.37 L113.90,410.44 L114.90,411.48 L115.90,412.50 L116.90,413.49 L117.90,414.45 L118.90,415.37 L119.90,416.26 L120.90,417.10 L121.90,417.91 L122.90,418.66 L123.90,419.37 L124.90,420.02 L125.90,420.62 L126.90,421.18 L127.90,421.68 L128.90,422.15 L129.90,422.57 L130.90,422.96 L131.90,423.31 L132.90,423.63 L133.90,423.92 L134.90,424.18 L135.90,424.42 L136.90,424.63 L137.90,424.82 L138.90,424.99 L139.90,425.13 L140.90,425.26 L141.90,425.36 L142.90,425.45 L143.90,425.52 L144.90,425.56 L145.90,425.57 L146.90,425.56 L147.90,425.52 L148.90,425.44 L149.90,425.34 L150.90,425.20 L151.90,425.04 L152.90,424.85 L153.90,424.65 L154.90,424.43 L155.90,424.20 L156.90,423.95 L157.90,423.70 L158.90,423.45 L159.90,423.19 L160.90,422.93 L161.90,422.68 L162.90,422.42 L163.90,422.17 L164.90,421.92 L165.90,421.68 L166.90,421.45 L167.90,421.22 L168.90,421.01 L169.90,420.80 L170.90,420.60 L171.90,420.41 L172.90,420.22 L173.90,420.04 L174.90,419.86 L175.90,419.69 L176.90,419.51 L177.90,419.33 L178.90,419.16 L179.90,418.97 L180.90,418.79 L181.90,418.60 L182.90,418.40 L183.90,418.20 L184.90,417.99 L185.90,417.78 L186.90,417.56 L187.90,417.34 L188.90,417.11 L189.90,416.88 L190.90,416.64 L191.90,416.40 L192.90,416.16 L193.90,415.92 L194.90,415.67 L195.90,415.42 L196.90,415.16 L197.90,414.91 L198.90,414.65 L199.90,414.39 L200.90,414.13 L201.90,413.87 L202.90,413.61 L203.90,413.35 L204.90,413.09 L205.90,412.83 L206.90,412.58 L207.90,412.33 L208.90,412.07 L209.90,411.83 L210.90,411.58 L211.90,411.34 L212.90,411.11 L213.90,410.88 L214.90,410.65 L215.90,410.43 L216.90,410.22 L217.90,410.01 L218.90,409.81 L219.90,409.61 L220.90,409.41 L221.90,409.21 L222.90,409.02 L223.90,408.82 L224.90,408.62 L225.90,408.42 L226.90,408.22 L227.90,408.01 L228.90,407.80 L229.90,407.59 L230.90,407.38 L231.90,407.17 L232.90,406.95 L233.90,406.73 L234.90,406.51 L235.90,406.29 L236.90,406.07 L237.90,405.84 L238.90,405.61 L239.90,405.39 L240.90,405.16 L241.90,404.93 L242.90,404.69 L243.90,404.46 L244.90,404.22 L245.90,403.99 L246.90,403.75 L247.90,403.51 L248.90,403.28 L249.90,403.04 L250.90,402.80 L251.90,402.55 L252.90,402.31 L253.90,402.07 L254.90,401.83 L255.90,401.59 L256.90,401.35 L257.90,401.10 L258.90,400.86 L259.90,400.62 L260.90,400.38 L261.90,400.13 L262.90,399.89 L263.90,399.64 L264.90,399.40 L265.90,399.15 L266.90,398.91 L267.90,398.66 L268.90,398.41 L269.90,398.16 L270.90,397.91 L271.90,397.65 L272.90,397.40 L273.90,397.14 L274.90,396.88 L275.90,396.62 L276.90,396.37 L277.90,396.11 L278.90,395.85 L279.90,395.59 L280.90,395.34 L281.90,395.09 L282.90,394.84 L283.90,394.59 L284.90,394.35 L285.90,394.12 L286.90,393.88 L287.90,393.66 L288.90,393.44 L289.90,393.22 L290.90,393.01 L291.90,392.81 L292.90,392.62 L293.90,392.43 L294.90,392.24 L295.90,392.06 L296.90,391.88 L297.90,391.71 L298.90,391.54 L299.90,391.37 L300.90,391.20 L301.90,391.03 L302.90,390.87 L303.90,390.70 L304.90,390.53 L305.90,390.37 L306.90,390.20 L307.90,390.03 L308.90,389.85 L309.90,389.68 L310.90,389.51 L311.90,389.33 L312.90,389.15 L313.90,388.97 L314.90,388.79 L315.90,388.60 L316.90,388.42 L317.90,388.23 L318.90,388.05 L319.90,387.86 L320.90,387.66 L321.90,387.47 L322.90,387.28 L323.90,387.08 L324.90,386.88 L325.90,386.68 L326.90,386.48 L327.90,386.27 L328.90,386.07 L329.90,385.86 L330.90,385.66 L331.90,385.45 L332.90,385.24 L333.90,385.04 L334.90,384.83 L335.90,384.62 L336.90,384.42 L337.90,384.21 L338.90,384.01 L339.90,383.81 L340.90,383.60 L341.90,383.41 L342.90,383.21 L343.90,383.01 L344.90,382.82 L345.90,382.63 L346.90,382.44 L347.90,382.25 L348.90,382.07 L349.90,381.89 L350.90,381.71 L351.90,381.53 L352.90,381.35 L353.90,381.17 L354.90,380.99 L355.90,380.82" stroke="#000" stroke-width="1.5" fill="none" stroke-dasharray="1.9,1.5"/>
<path d="M52.90,366.20 L53.40,366.31 L53.90,366.41 L54.40,366.52 L54.90,366.62 L55.40,366.73 L55.90,366.84 L56.40,366.95 L56.90,367.06 L57.40,367.18 L57.90,367.29 L58.40,367.41 L58.90,367.53 L59.40,367.65 L59.90,367.78 L60.40,367.91 L60.90,368.04 L61.40,368.18 L61.90,368.32 L62.40,368.46 L62.90,368.61 L63.40,368.77 L63.90,368.92 L64.40,369.09 L64.90,369.26 L65.40,369.44 L65.90,369.62 L66.40,369.82 L66.90,370.02 L67.40,370.23 L67.90,370.45 L68.40,370.67 L68.90,370.91 L69.40,371.16 L69.90,371.42 L70.40,371.69 L70.90,371.97 L71.40,372.26 L71.90,372.57 L72.40,372.89 L72.90,373.22 L73.40,373.57 L73.90,373.93 L74.40,374.31 L74.90,374.70 L75.40,375.11 L75.90,375.53 L76.40,375.96 L76.90,376.39 L77.40,376.83 L77.90,377.28 L78.40,377.73 L78.90,378.18 L79.40,378.63 L79.90,379.07 L80.40,379.50 L80.90,379.93 L81.40,380.35 L81.90,380.76 L82.40,381.15 L82.90,381.53 L83.40,381.89 L83.90,382.23 L84.40,382.56 L84.90,382.86 L85.40,383.16 L85.90,383.44 L86.40,383.71 L86.90,383.98 L87.40,384.25 L87.90,384.51 L88.40,384.76 L88.90,385.01 L89.40,385.27 L89.90,385.54 L90.40,385.81 L90.90,386.10 L91.40,386.41 L91.90,386.73 L92.40,387.08 L92.90,387.44 L93.40,387.82 L93.90,388.22 L94.40,388.64 L94.90,389.07 L95.40,389.52 L95.90,389.98 L96.40,390.45 L96.90,390.93 L97.40,391.42 L97.90,391.92 L98.40,392.43 L98.90,392.94 L99.40,393.47 L99.90,393.99 L100.40,394.52 L100.90,395.05 L101.40,395.57 L101.90,396.10 L102.40,396.62 L102.90,397.14 L103.40,397.65 L103.90,398.14 L104.40,398.63 L104.90,399.10 L105.40,399.56 L105.90,400.00 L106.40,400.42 L106.90,400.85 L107.40,401.26 L107.90,401.67 L108.40,402.08 L108.90,402.50 L109.40,402.93 L109.90,403.38 L110.40,403.85 L110.90,404.36 L111.40,404.89 L111.90,405.45 L112.40,406.02 L112.90,406.60 L113.40,407.19 L113.90,407.78 L114.40,408.37 L114.90,408.94 L115.40,409.51 L115.90,410.06 L116.40,410.58 L116.90,410.99 L117.40,411.36 L117.90,411.71 L118.40,412.04 L118.90,412.37 L119.40,412.68 L119.90,412.99 L120.40,413.30 L120.90,413.61 L121.40,413.91 L121.90,414.21 L122.40,414.50 L122.90,414.78 L123.40,415.05 L123.90,415.30 L124.40,415.53 L124.90,415.73 L125.40,415.92 L125.90,416.08 L126.40,416.23 L126.90,416.36 L127.40,416.48 L127.90,416.58 L128.40,416.67 L128.90,416.74 L129.40,416.80 L129.90,416.85 L130.40,416.89 L130.90,416.92 L131.40,416.94 L131.90,416.95 L132.40,416.98 L132.90,417.01 L133.40,417.04 L133.90,417.06 L134.40,417.07 L134.90,417.08 L135.40,417.09 L135.90,417.09 L136.40,417.08 L136.90,417.08 L137.40,417.06 L137.90,417.05 L138.40,417.03 L138.90,417.01 L139.40,416.99 L139.90,416.97 L140.40,416.94 L140.90,416.91 L141.40,416.88 L141.90,416.84 L142.40,416.86 L142.90,416.88 L143.40,416.89 L143.90,416.89 L144.40,416.89 L144.90,416.87 L145.40,416.85 L145.90,416.80 L146.40,416.75 L146.90,416.68 L147.40,416.59 L147.90,416.50 L148.40,416.39 L148.90,416.27 L149.40,416.14 L149.90,416.01 L150.40,415.87 L150.90,415.72 L151.40,415.56 L151.90,415.41 L152.40,415.24 L152.90,415.08 L153.40,414.92 L153.90,414.76 L154.40,414.59 L154.90,414.43 L155.40,414.26 L155.90,414.10 L156.40,413.94 L156.90,413.77 L157.40,413.61 L157.90,413.44 L158.40,413.28 L158.90,413.11 L159.40,412.94 L159.90,412.78 L160.40,412.61 L160.90,412.44 L161.40,412.27 L161.90,412.10 L162.40,411.93 L162.90,411.76 L163.40,411.59 L163.90,411.42 L164.40,411.26 L164.90,411.09 L165.40,410.92 L165.90,410.75 L166.40,410.59 L166.90,410.42 L167.40,410.26 L167.90,410.10 L168.40,409.93 L168.90,409.78 L169.40,409.62 L169.90,409.46 L170.40,409.30 L170.90,409.15 L171.40,408.99 L171.90,408.84 L172.40,408.69 L172.90,408.53 L173.40,408.38 L173.90,408.23 L174.40,408.07 L174.90,407.92 L175.40,407.76 L175.90,407.61 L176.40,407.45 L176.90,407.30 L177.40,407.14 L177.90,406.98 L178.40,406.82 L178.90,406.66 L179.40,406.49 L179.90,406.33 L180.40,406.16 L180.90,405.99 L181.40,405.82 L181.90,405.64 L182.40,405.47 L182.90,405.29 L183.40,405.11 L183.90,404.92 L184.40,404.74 L184.90,404.55 L185.40,404.36 L185.90,404.17 L186.40,403.97 L186.90,403.78 L187.40,403.58 L187.90,403.38 L188.40,403.18 L188.90,402.98 L189.40,402.78 L189.90,402.58 L190.40,402.37 L190.90,402.17 L191.40,401.96 L191.90,401.75 L192.40,401.55 L192.90,401.34 L193.40,401.13 L193.90,400.92 L194.40,400.71 L194.90,400.50 L195.40,400.29 L195.90,400.09 L196.40,399.88 L196.90,399.67 L197.40,399.46 L197.90,399.25 L198.40,399.04 L198.90,398.84 L199.40,398.63 L199.90,398.43 L200.40,398.22 L200.90,398.02 L201.40,397.81 L201.90,397.61 L202.40,397.41 L202.90,397.20 L203.40,397.00 L203.90,396.80 L204.40,396.60 L204.90,396.40 L205.40,396.20 L205.90,396.00 L206.40,395.80 L206.90,395.60 L207.40,395.40 L207.90,395.20 L208.40,395.00 L208.90,394.80 L209.40,394.60 L209.90,394.40 L210.40,394.20 L210.90,394.00 L211.40,393.79 L211.90,393.59 L212.40,393.39 L212.90,393.19 L213.40,392.99 L213.90,392.79 L214.40,392.58 L214.90,392.38 L215.40,392.18 L215.90,391.97 L216.40,391.77 L216.90,391.57 L217.40,391.36 L217.90,391.16 L218.40,390.96 L218.90,390.75 L219.40,390.55 L219.90,390.35 L220.40,390.16 L220.90,389.96 L221.40,389.77 L221.90,389.58 L222.40,389.39 L222.90,389.21 L223.40,389.03 L223.90,388.86 L224.40,388.68 L224.90,388.52 L225.40,388.35 L225.90,388.20 L226.40,388.04 L226.90,387.89 L227.40,387.75 L227.90,387.61 L228.40,387.47 L228.90,387.33 L229.40,387.20 L229.90,387.07 L230.40,386.94 L230.90,386.82 L231.40,386.70 L231.90,386.58 L232.40,386.46 L232.90,386.35 L233.40,386.23 L233.90,386.12 L234.40,386.01 L234.90,385.90 L235.40,385.79 L235.90,385.68 L236.40,385.57 L236.90,385.46 L237.40,385.35 L237.90,385.24 L238.40,385.12 L238.90,385.01 L239.40,384.90 L239.90,384.78 L240.40,384.67 L240.90,384.55 L241.40,384.43 L241.90,384.31 L242.40,384.19 L242.90,384.06 L243.40,383.93 L243.90,383.80 L244.40,383.67 L244.90,383.53 L245.40,383.39 L245.90,383.25 L246.40,383.11 L246.90,382.96 L247.40,382.82 L247.90,382.67 L248.40,382.52 L248.90,382.37 L249.40,382.22 L249.90,382.07 L250.40,381.92 L250.90,381.77 L251.40,381.62 L251.90,381.48 L252.40,381.33 L252.90,381.18 L253.40,381.03 L253.90,380.89 L254.40,380.74 L254.90,380.60 L255.40,380.46 L255.90,380.32 L256.40,380.19 L256.90,380.05 L257.40,379.92 L257.90,379.79 L258.40,379.66 L258.90,379.54 L259.40,379.42 L259.90,379.30 L260.40,379.18 L260.90,379.06 L261.40,378.95 L261.90,378.84 L262.40,378.73 L262.90,378.62 L263.40,378.52 L263.90,378.41 L264.40,378.31 L264.90,378.21 L265.40,378.11 L265.90,378.02 L266.40,377.92 L266.90,377.83 L267.40,377.74 L267.90,377.65 L268.40,377.57 L268.90,377.48 L269.40,377.40 L269.90,377.32 L270.40,377.24 L270.90,377.16 L271.40,377.08 L271.90,377.00 L272.40,376.92 L272.90,376.85 L273.40,376.77 L273.90,376.70 L274.40,376.63 L274.90,376.56 L275.40,376.48 L275.90,376.41 L276.40,376.34 L276.90,376.27 L277.40,376.20 L277.90,376.13 L278.40,376.06 L278.90,375.99 L279.40,375.92 L279.90,375.85 L280.40,375.78 L280.90,375.71 L281.40,375.64 L281.90,375.56 L282.40,375.49 L282.90,375.42 L283.40,375.34 L283.90,375.27 L284.40,375.19 L284.90,375.12 L285.40,375.04 L285.90,374.96 L286.40,374.88 L286.90,374.79 L287.40,374.71 L287.90,374.63 L288.40,374.54 L288.90,374.46 L289.40,374.37 L289.90,374.29 L290.40,374.20 L290.90,374.11 L291.40,374.02 L291.90,373.93 L292.40,373.84 L292.90,373.75 L293.40,373.66 L293.90,373.57 L294.40,373.48 L294.90,373.39 L295.40,373.30 L295.90,373.21 L296.40,373.12 L296.90,373.03 L297.40,372.94 L297.90,372.84 L298.40,372.75 L298.90,372.66 L299.40,372.57 L299.90,372.48 L300.40,372.39 L300.90,372.30 L301.40,372.21 L301.90,372.12 L302.40,372.04 L302.90,371.95 L303.40,371.86 L303.90,371.77 L304.40,371.69 L304.90,371.60 L305.40,371.52 L305.90,371.44 L306.40,371.36 L306.90,371.27 L307.40,371.19 L307.90,371.11 L308.40,371.04 L308.90,370.96 L309.40,370.88 L309.90,370.81 L310.40,370.73 L310.90,370.66 L311.40,370.58 L311.90,370.51 L312.40,370.44 L312.90,370.37 L313.40,370.30 L313.90,370.23 L314.40,370.16 L314.90,370.09 L315.40,370.03 L315.90,369.96 L316.40,369.89 L316.90,369.83 L317.40,369.76 L317.90,369.70 L318.40,369.64 L318.90,369.58 L319.40,369.52 L319.90,369.46 L320.40,369.40 L320.90,369.34 L321.40,369.28 L321.90,369.22 L322.40,369.16 L322.90,369.11 L323.40,369.05 L323.90,368.99 L324.40,368.94 L324.90,368.89 L325.40,368.83 L325.90,368.78 L326.40,368.73 L326.90,368.68 L327.40,368.62 L327.90,368.57 L328.40,368.52 L328.90,368.47 L329.40,368.42 L329.90,368.38 L330.40,368.33 L330.90,368.28 L331.40,368.23 L331.90,368.19 L332.40,368.14 L332.90,368.09 L333.40,368.05 L333.90,368.00 L334.40,367.96 L334.90,367.91 L335.40,367.87 L335.90,367.83 L336.40,367.78 L336.90,367.74 L337.40,367.70 L337.90,367.66 L338.40,367.62 L338.90,367.58 L339.40,367.53 L339.90,367.49 L340.40,367.45 L340.90,367.41 L341.40,367.37 L341.90,367.33 L342.40,367.30 L342.90,367.26 L343.40,367.22 L343.90,367.18 L344.40,367.14 L344.90,367.10 L345.40,367.07 L345.90,367.03 L346.40,366.99 L346.90,366.95 L347.40,366.92 L347.90,366.88 L348.40,366.84 L348.90,366.81 L349.40,366.77 L349.90,366.74 L350.40,366.70 L350.90,366.66 L351.40,366.63 L351.90,366.59 L352.40,366.56 L352.90,366.52 L353.40,366.48 L353.90,366.45 L354.40,366.41 L354.90,366.38 L355.40,366.34 L355.90,366.31 L356.40,366.27" stroke="#000" stroke-width="1.2" fill="none" stroke-dasharray="3,2"/>
<path d="M52.90,363.60 L53.90,363.78 L54.90,363.97 L55.90,364.16 L56.90,364.35 L57.90,364.56 L58.90,364.77 L59.90,364.99 L60.90,365.22 L61.90,365.47 L62.90,365.74 L63.90,366.03 L64.90,366.33 L65.90,366.67 L66.90,367.04 L67.90,367.44 L68.90,367.88 L69.90,368.36 L70.90,368.88 L71.90,369.46 L72.90,370.08 L73.90,370.76 L74.90,371.50 L75.90,372.30 L76.90,373.13 L77.90,373.99 L78.90,374.86 L79.90,375.72 L80.90,376.55 L81.90,377.35 L82.90,378.09 L83.90,378.76 L84.90,379.36 L85.90,379.90 L86.90,380.41 L87.90,380.91 L88.90,381.41 L89.90,381.94 L90.90,382.50 L91.90,383.13 L92.90,383.84 L93.90,384.62 L94.90,385.47 L95.90,386.38 L96.90,387.33 L97.90,388.32 L98.90,389.34 L99.90,390.39 L100.90,391.45 L101.90,392.50 L102.90,393.54 L103.90,394.54 L104.90,395.50 L105.90,396.40 L106.90,397.22 L107.90,397.98 L108.90,398.73 L109.90,399.54 L110.90,400.45 L111.90,401.47 L112.90,402.55 L113.90,403.66 L114.90,404.76 L115.90,405.80 L116.90,406.76 L117.90,407.65 L118.90,408.48 L119.90,409.28 L120.90,410.07 L121.90,410.85 L122.90,411.59 L123.90,412.28 L124.90,412.90 L125.90,413.44 L126.90,413.91 L127.90,414.31 L128.90,414.66 L129.90,414.96 L130.90,415.21 L131.90,415.43 L132.90,415.62 L133.90,415.78 L134.90,415.93 L135.90,416.05 L136.90,416.16 L137.90,416.26 L138.90,416.34 L139.90,416.41 L140.90,416.48 L141.90,416.53 L142.90,416.58 L143.90,416.59 L144.90,416.58 L145.90,416.51 L146.90,416.38 L147.90,416.21 L148.90,415.98 L149.90,415.72 L150.90,415.43 L151.90,415.12 L152.90,414.80 L153.90,414.47 L154.90,414.15 L155.90,413.82 L156.90,413.49 L157.90,413.16 L158.90,412.83 L159.90,412.50 L160.90,412.17 L161.90,411.83 L162.90,411.49 L163.90,411.16 L164.90,410.82 L165.90,410.49 L166.90,410.16 L167.90,409.83 L168.90,409.51 L169.90,409.20 L170.90,408.89 L171.90,408.58 L172.90,408.28 L173.90,407.97 L174.90,407.66 L175.90,407.36 L176.90,407.04 L177.90,406.73 L178.90,406.41 L179.90,406.08 L180.90,405.74 L181.90,405.40 L182.90,405.05 L183.90,404.68 L184.90,404.31 L185.90,403.93 L186.90,403.54 L187.90,403.15 L188.90,402.75 L189.90,402.34 L190.90,401.94 L191.90,401.52 L192.90,401.11 L193.90,400.69 L194.90,400.28 L195.90,399.86 L196.90,399.45 L197.90,399.03 L198.90,398.62 L199.90,398.21 L200.90,397.80 L201.90,397.39 L202.90,396.99 L203.90,396.59 L204.90,396.19 L205.90,395.79 L206.90,395.39 L207.90,394.99 L208.90,394.59 L209.90,394.19 L210.90,393.79 L211.90,393.39 L212.90,392.99 L213.90,392.59 L214.90,392.18 L215.90,391.78 L216.90,391.37 L217.90,390.96 L218.90,390.56 L219.90,390.16 L220.90,389.77 L221.90,389.39 L222.90,389.02 L223.90,388.67 L224.90,388.33 L225.90,388.01 L226.90,387.71 L227.90,387.43 L228.90,387.15 L229.90,386.89 L230.90,386.65 L231.90,386.41 L232.90,386.17 L233.90,385.95 L234.90,385.73 L235.90,385.51 L236.90,385.29 L237.90,385.07 L238.90,384.85 L239.90,384.62 L240.90,384.39 L241.90,384.15 L242.90,383.90 L243.90,383.64 L244.90,383.37 L245.90,383.10 L246.90,382.81 L247.90,382.52 L248.90,382.22 L249.90,381.93 L250.90,381.63 L251.90,381.33 L252.90,381.03 L253.90,380.74 L254.90,380.46 L255.90,380.18 L256.90,379.91 L257.90,379.65 L258.90,379.40 L259.90,379.16 L260.90,378.93 L261.90,378.71 L262.90,378.49 L263.90,378.28 L264.90,378.08 L265.90,377.89 L266.90,377.71 L267.90,377.53 L268.90,377.36 L269.90,377.20 L270.90,377.04 L271.90,376.88 L272.90,376.73 L273.90,376.59 L274.90,376.44 L275.90,376.30 L276.90,376.16 L277.90,376.02 L278.90,375.88 L279.90,375.74 L280.90,375.60 L281.90,375.46 L282.90,375.32 L283.90,375.17 L284.90,375.02 L285.90,374.86 L286.90,374.70 L287.90,374.53 L288.90,374.37 L289.90,374.19 L290.90,374.02 L291.90,373.84 L292.90,373.67 L293.90,373.49 L294.90,373.31 L295.90,373.13 L296.90,372.94 L297.90,372.76 L298.90,372.58 L299.90,372.40 L300.90,372.22 L301.90,372.05 L302.90,371.87 L303.90,371.70 L304.90,371.53 L305.90,371.37 L306.90,371.21 L307.90,371.05 L308.90,370.89 L309.90,370.74 L310.90,370.59 L311.90,370.45 L312.90,370.31 L313.90,370.17 L314.90,370.03 L315.90,369.90 L316.90,369.77 L317.90,369.65 L318.90,369.53 L319.90,369.40 L320.90,369.29 L321.90,369.17 L322.90,369.06 L323.90,368.95 L324.90,368.84 L325.90,368.74 L326.90,368.63 L327.90,368.53 L328.90,368.44 L329.90,368.34 L330.90,368.24 L331.90,368.15 L332.90,368.06 L333.90,367.97 L334.90,367.89 L335.90,367.80 L336.90,367.72 L337.90,367.63 L338.90,367.55 L339.90,367.47 L340.90,367.39 L341.90,367.32 L342.90,367.24 L343.90,367.16 L344.90,367.09 L345.90,367.01 L346.90,366.94 L347.90,366.87 L348.90,366.80 L349.90,366.73 L350.90,366.66 L351.90,366.59 L352.90,366.52 L353.90,366.45 L354.90,366.38 L355.90,366.31" stroke="#000" stroke-width="1.9" fill="none"/>
<path d="M57.4,371.9L59.4,373.9M57.4,373.9L59.4,371.9" stroke="#111" stroke-width="1.1"/>
<path d="M61.5,369.0L63.5,371.0M61.5,371.0L63.5,369.0" stroke="#111" stroke-width="1.1"/>
<path d="M66.2,373.0L68.2,375.0M66.2,375.0L68.2,373.0" stroke="#111" stroke-width="1.1"/>
<path d="M70.9,374.0L72.9,376.0M70.9,376.0L72.9,374.0" stroke="#111" stroke-width="1.1"/>
<path d="M75.5,377.0L77.5,379.0M75.5,379.0L77.5,377.0" stroke="#111" stroke-width="1.1"/>
<path d="M80.5,384.9L82.5,386.9M80.5,386.9L82.5,384.9" stroke="#111" stroke-width="1.1"/>
<path d="M84.7,385.4L86.7,387.4M84.7,387.4L86.7,385.4" stroke="#111" stroke-width="1.1"/>
<path d="M121.6,402.4L123.6,404.4M121.6,404.4L123.6,402.4" stroke="#111" stroke-width="1.1"/>
<path d="M126.2,413.0L128.2,415.0M126.2,415.0L128.2,413.0" stroke="#111" stroke-width="1.1"/>
<path d="M131.4,404.9L133.4,406.9M131.4,406.9L133.4,404.9" stroke="#111" stroke-width="1.1"/>
<path d="M135.6,408.7L137.6,410.7M135.6,410.7L137.6,408.7" stroke="#111" stroke-width="1.1"/>
<path d="M140.2,413.0L142.2,415.0M140.2,415.0L142.2,413.0" stroke="#111" stroke-width="1.1"/>
<path d="M145.0,419.2L147.0,421.2M145.0,421.2L147.0,419.2" stroke="#111" stroke-width="1.1"/>
<path d="M149.5,416.0L151.5,418.0M149.5,418.0L151.5,416.0" stroke="#111" stroke-width="1.1"/>
<path d="M154.1,417.9L156.1,419.9M154.1,419.9L156.1,417.9" stroke="#111" stroke-width="1.1"/>
<path d="M158.8,413.0L160.8,415.0M158.8,415.0L160.8,413.0" stroke="#111" stroke-width="1.1"/>
<path d="M163.6,405.0L165.6,407.0M163.6,407.0L165.6,405.0" stroke="#111" stroke-width="1.1"/>
<path d="M168.2,403.6L170.2,405.6M168.2,405.6L170.2,403.6" stroke="#111" stroke-width="1.1"/>
<path d="M172.4,412.0L174.4,414.0M172.4,414.0L174.4,412.0" stroke="#111" stroke-width="1.1"/>
<path d="M177.5,408.1L179.5,410.1M177.5,410.1L179.5,408.1" stroke="#111" stroke-width="1.1"/>
<path d="M181.7,404.0L183.7,406.0M181.7,406.0L183.7,404.0" stroke="#111" stroke-width="1.1"/>
<path d="M186.8,412.0L188.8,414.0M186.8,414.0L188.8,412.0" stroke="#111" stroke-width="1.1"/>
<path d="M191.0,405.8L193.0,407.8M191.0,407.8L193.0,405.8" stroke="#111" stroke-width="1.1"/>
<path d="M196.0,407.0L198.0,409.0M196.0,409.0L198.0,407.0" stroke="#111" stroke-width="1.1"/>
<path d="M200.3,415.4L202.3,417.4M200.3,417.4L202.3,415.4" stroke="#111" stroke-width="1.1"/>
<path d="M205.3,400.2L207.3,402.2M205.3,402.2L207.3,400.2" stroke="#111" stroke-width="1.1"/>
<path d="M209.5,400.2L211.5,402.2M209.5,402.2L211.5,400.2" stroke="#111" stroke-width="1.1"/>
<path d="M214.6,411.2L216.6,413.2M214.6,413.2L216.6,411.2" stroke="#111" stroke-width="1.1"/>
<path d="M218.8,402.4L220.8,404.4M218.8,404.4L220.8,402.4" stroke="#111" stroke-width="1.1"/>
<path d="M223.3,395.0L225.3,397.0M223.3,397.0L225.3,395.0" stroke="#111" stroke-width="1.1"/>
<path d="M228.6,391.0L230.6,393.0M228.6,393.0L230.6,391.0" stroke="#111" stroke-width="1.1"/>
<path d="M233.1,402.5L235.1,404.5M233.1,404.5L235.1,402.5" stroke="#111" stroke-width="1.1"/>
<path d="M237.7,408.0L239.7,410.0M237.7,410.0L239.7,408.0" stroke="#111" stroke-width="1.1"/>
<path d="M242.3,394.7L244.3,396.7M242.3,396.7L244.3,394.7" stroke="#111" stroke-width="1.1"/>
<path d="M246.8,398.3L248.8,400.3M246.8,400.3L248.8,398.3" stroke="#111" stroke-width="1.1"/>
<path d="M251.4,397.1L253.4,399.1M251.4,399.1L253.4,397.1" stroke="#111" stroke-width="1.1"/>
<path d="M256.5,388.7L258.5,390.7M256.5,390.7L258.5,388.7" stroke="#111" stroke-width="1.1"/>
<path d="M260.9,388.7L262.9,390.7M260.9,390.7L262.9,388.7" stroke="#111" stroke-width="1.1"/>
<path d="M265.6,392.9L267.6,394.9M265.6,394.9L267.6,392.9" stroke="#111" stroke-width="1.1"/>
<path d="M270.0,403.8L272.0,405.8M270.0,405.8L272.0,403.8" stroke="#111" stroke-width="1.1"/>
<path d="M274.8,402.5L276.8,404.5M274.8,404.5L276.8,402.5" stroke="#111" stroke-width="1.1"/>
<path d="M279.1,396.5L281.1,398.5M279.1,398.5L281.1,396.5" stroke="#111" stroke-width="1.1"/>
<path d="M283.9,393.4L285.9,395.4M283.9,395.4L285.9,393.4" stroke="#111" stroke-width="1.1"/>
<path d="M288.3,400.7L290.3,402.7M288.3,402.7L290.3,400.7" stroke="#111" stroke-width="1.1"/>
<path d="M293.3,397.9L295.3,399.9M293.3,399.9L295.3,397.9" stroke="#111" stroke-width="1.1"/>
<path d="M298.0,395.0L300.0,397.0M298.0,397.0L300.0,395.0" stroke="#111" stroke-width="1.1"/>
<path d="M302.7,396.5L304.7,398.5M302.7,398.5L304.7,396.5" stroke="#111" stroke-width="1.1"/>
<path d="M307.6,402.8L309.6,404.8M307.6,404.8L309.6,402.8" stroke="#111" stroke-width="1.1"/>
<path d="M312.5,403.8L314.5,405.8M312.5,405.8L314.5,403.8" stroke="#111" stroke-width="1.1"/>
<path d="M316.5,409.7L318.5,411.7M316.5,411.7L318.5,409.7" stroke="#111" stroke-width="1.1"/>
<path d="M321.4,407.7L323.4,409.7M321.4,409.7L323.4,407.7" stroke="#111" stroke-width="1.1"/>
<path d="M325.9,402.4L327.9,404.4M325.9,404.4L327.9,402.4" stroke="#111" stroke-width="1.1"/>
<path d="M330.6,415.0L332.6,417.0M330.6,417.0L332.6,415.0" stroke="#111" stroke-width="1.1"/>
<path d="M335.1,402.4L337.1,404.4M335.1,404.4L337.1,402.4" stroke="#111" stroke-width="1.1"/>
<path d="M339.7,402.4L341.7,404.4M339.7,404.4L341.7,402.4" stroke="#111" stroke-width="1.1"/>
<path d="M344.0,402.4L346.0,404.4M344.0,404.4L346.0,402.4" stroke="#111" stroke-width="1.1"/>
<path d="M348.9,398.5L350.9,400.5M348.9,400.5L350.9,398.5" stroke="#111" stroke-width="1.1"/>
<path d="M353.8,402.4L355.8,404.4M353.8,404.4L355.8,402.4" stroke="#111" stroke-width="1.1"/>
<circle cx="54.0" cy="365.0" r="1.7" fill="#000"/>
<circle cx="58.4" cy="363.6" r="1.7" fill="#000"/>
<circle cx="62.5" cy="363.6" r="1.7" fill="#000"/>
<circle cx="67.2" cy="363.6" r="1.7" fill="#000"/>
<circle cx="71.9" cy="367.0" r="1.7" fill="#000"/>
<circle cx="77.0" cy="372.9" r="1.7" fill="#000"/>
<circle cx="81.3" cy="376.0" r="1.7" fill="#000"/>
<circle cx="85.7" cy="379.1" r="1.7" fill="#000"/>
<circle cx="91.3" cy="382.6" r="1.7" fill="#000"/>
<circle cx="95.0" cy="382.4" r="1.7" fill="#000"/>
<circle cx="99.5" cy="394.0" r="1.7" fill="#000"/>
<circle cx="108.7" cy="392.1" r="1.7" fill="#000"/>
<circle cx="113.3" cy="399.7" r="1.7" fill="#000"/>
<circle cx="118.0" cy="393.7" r="1.7" fill="#000"/>
<circle cx="122.6" cy="399.7" r="1.7" fill="#000"/>
<circle cx="127.2" cy="410.6" r="1.7" fill="#000"/>
<circle cx="132.4" cy="403.4" r="1.7" fill="#000"/>
<circle cx="136.6" cy="407.6" r="1.7" fill="#000"/>
<circle cx="141.2" cy="408.8" r="1.7" fill="#000"/>
<circle cx="146.0" cy="416.6" r="1.7" fill="#000"/>
<circle cx="150.5" cy="412.9" r="1.7" fill="#000"/>
<circle cx="155.1" cy="416.9" r="1.7" fill="#000"/>
<circle cx="159.8" cy="407.2" r="1.7" fill="#000"/>
<circle cx="164.6" cy="399.6" r="1.7" fill="#000"/>
<circle cx="169.2" cy="401.2" r="1.7" fill="#000"/>
<circle cx="173.4" cy="401.2" r="1.7" fill="#000"/>
<circle cx="178.5" cy="397.0" r="1.7" fill="#000"/>
<circle cx="182.7" cy="399.5" r="1.7" fill="#000"/>
<circle cx="187.8" cy="405.4" r="1.7" fill="#000"/>
<circle cx="192.0" cy="397.3" r="1.7" fill="#000"/>
<circle cx="197.0" cy="390.2" r="1.7" fill="#000"/>
<circle cx="201.3" cy="401.2" r="1.7" fill="#000"/>
<circle cx="206.3" cy="394.5" r="1.7" fill="#000"/>
<circle cx="210.5" cy="388.2" r="1.7" fill="#000"/>
<circle cx="215.6" cy="391.9" r="1.7" fill="#000"/>
<circle cx="219.8" cy="386.5" r="1.7" fill="#000"/>
<circle cx="224.0" cy="378.4" r="1.7" fill="#000"/>
<circle cx="229.6" cy="369.6" r="1.7" fill="#000"/>
<circle cx="234.1" cy="382.9" r="1.7" fill="#000"/>
<circle cx="238.7" cy="377.4" r="1.7" fill="#000"/>
<circle cx="243.3" cy="369.2" r="1.7" fill="#000"/>
<circle cx="247.8" cy="373.2" r="1.7" fill="#000"/>
<circle cx="252.4" cy="377.4" r="1.7" fill="#000"/>
<circle cx="257.5" cy="381.1" r="1.7" fill="#000"/>
<circle cx="261.9" cy="365.6" r="1.7" fill="#000"/>
<circle cx="266.6" cy="373.2" r="1.7" fill="#000"/>
<circle cx="271.0" cy="371.4" r="1.7" fill="#000"/>
<circle cx="275.8" cy="365.9" r="1.7" fill="#000"/>
<circle cx="280.1" cy="363.7" r="1.7" fill="#000"/>
<circle cx="284.9" cy="378.7" r="1.7" fill="#000"/>
<circle cx="289.3" cy="371.4" r="1.7" fill="#000"/>
<circle cx="294.3" cy="380.6" r="1.7" fill="#000"/>
<circle cx="298.9" cy="372.0" r="1.7" fill="#000"/>
<circle cx="303.7" cy="375.3" r="1.7" fill="#000"/>
<circle cx="308.6" cy="373.3" r="1.7" fill="#000"/>
<circle cx="313.5" cy="390.0" r="1.7" fill="#000"/>
<circle cx="317.5" cy="388.0" r="1.7" fill="#000"/>
<circle cx="322.4" cy="388.0" r="1.7" fill="#000"/>
<circle cx="326.9" cy="380.6" r="1.7" fill="#000"/>
<circle cx="331.6" cy="390.4" r="1.7" fill="#000"/>
<circle cx="336.1" cy="388.0" r="1.7" fill="#000"/>
<circle cx="340.7" cy="376.9" r="1.7" fill="#000"/>
<circle cx="346.0" cy="382.6" r="1.7" fill="#000"/>
<circle cx="349.9" cy="380.8" r="1.7" fill="#000"/>
<circle cx="354.8" cy="371.4" r="1.7" fill="#000"/>
</g>
<path d="M52.90,2.80V117.60M52.30,117.00H356" stroke="#222" stroke-width="1.3" fill="none"/>
<path d="M45.90,109.90H52.9" stroke="#222" stroke-width="1.3"/>
<path d="M45.90,88.60H52.9" stroke="#222" stroke-width="1.3"/>
<path d="M45.90,67.30H52.9" stroke="#222" stroke-width="1.3"/>
<path d="M45.90,46.00H52.9" stroke="#222" stroke-width="1.3"/>
<path d="M45.90,24.70H52.9" stroke="#222" stroke-width="1.3"/>
<path d="M45.90,3.40H52.9" stroke="#222" stroke-width="1.3"/>
<path d="M49.40,117.00H52.9" stroke="#222" stroke-width="1.0"/>
<path d="M49.40,102.80H52.9" stroke="#222" stroke-width="1.0"/>
<path d="M49.40,95.70H52.9" stroke="#222" stroke-width="1.0"/>
<path d="M49.40,81.50H52.9" stroke="#222" stroke-width="1.0"/>
<path d="M49.40,74.40H52.9" stroke="#222" stroke-width="1.0"/>
<path d="M49.40,60.20H52.9" stroke="#222" stroke-width="1.0"/>
<path d="M49.40,53.10H52.9" stroke="#222" stroke-width="1.0"/>
<path d="M49.40,38.90H52.9" stroke="#222" stroke-width="1.0"/>
<path d="M49.40,31.80H52.9" stroke="#222" stroke-width="1.0"/>
<path d="M49.40,17.60H52.9" stroke="#222" stroke-width="1.0"/>
<path d="M49.40,10.50H52.9" stroke="#222" stroke-width="1.0"/>
<path d="M52.90,117.00V124.00" stroke="#222" stroke-width="1.3"/>
<path d="M66.61,117.00V120.50" stroke="#222" stroke-width="1.0"/>
<path d="M80.31,117.00V120.50" stroke="#222" stroke-width="1.0"/>
<path d="M94.02,117.00V120.50" stroke="#222" stroke-width="1.0"/>
<path d="M107.72,117.00V124.00" stroke="#222" stroke-width="1.3"/>
<path d="M121.43,117.00V120.50" stroke="#222" stroke-width="1.0"/>
<path d="M135.13,117.00V120.50" stroke="#222" stroke-width="1.0"/>
<path d="M148.84,117.00V120.50" stroke="#222" stroke-width="1.0"/>
<path d="M162.54,117.00V124.00" stroke="#222" stroke-width="1.3"/>
<path d="M176.25,117.00V120.50" stroke="#222" stroke-width="1.0"/>
<path d="M189.95,117.00V120.50" stroke="#222" stroke-width="1.0"/>
<path d="M203.66,117.00V120.50" stroke="#222" stroke-width="1.0"/>
<path d="M217.36,117.00V124.00" stroke="#222" stroke-width="1.3"/>
<path d="M231.06,117.00V120.50" stroke="#222" stroke-width="1.0"/>
<path d="M244.77,117.00V120.50" stroke="#222" stroke-width="1.0"/>
<path d="M258.47,117.00V120.50" stroke="#222" stroke-width="1.0"/>
<path d="M272.18,117.00V124.00" stroke="#222" stroke-width="1.3"/>
<path d="M285.88,117.00V120.50" stroke="#222" stroke-width="1.0"/>
<path d="M299.59,117.00V120.50" stroke="#222" stroke-width="1.0"/>
<path d="M313.29,117.00V120.50" stroke="#222" stroke-width="1.0"/>
<path d="M327.00,117.00V124.00" stroke="#222" stroke-width="1.3"/>
<path d="M340.70,117.00V120.50" stroke="#222" stroke-width="1.0"/>
<path d="M354.41,117.00V120.50" stroke="#222" stroke-width="1.0"/>
<path d="M368.11,117.00V120.50" stroke="#222" stroke-width="1.0"/>
<path d="M52.90,162.40V277.00M52.30,276.40H356" stroke="#222" stroke-width="1.3" fill="none"/>
<path d="M45.90,276.40H52.9" stroke="#222" stroke-width="1.3"/>
<path d="M45.90,257.50H52.9" stroke="#222" stroke-width="1.3"/>
<path d="M45.90,238.60H52.9" stroke="#222" stroke-width="1.3"/>
<path d="M45.90,219.70H52.9" stroke="#222" stroke-width="1.3"/>
<path d="M45.90,200.80H52.9" stroke="#222" stroke-width="1.3"/>
<path d="M45.90,181.90H52.9" stroke="#222" stroke-width="1.3"/>
<path d="M45.90,163.00H52.9" stroke="#222" stroke-width="1.3"/>
<path d="M49.40,272.62H52.9" stroke="#222" stroke-width="1.0"/>
<path d="M49.40,268.84H52.9" stroke="#222" stroke-width="1.0"/>
<path d="M49.40,265.06H52.9" stroke="#222" stroke-width="1.0"/>
<path d="M49.40,261.28H52.9" stroke="#222" stroke-width="1.0"/>
<path d="M49.40,253.72H52.9" stroke="#222" stroke-width="1.0"/>
<path d="M49.40,249.94H52.9" stroke="#222" stroke-width="1.0"/>
<path d="M49.40,246.16H52.9" stroke="#222" stroke-width="1.0"/>
<path d="M49.40,242.38H52.9" stroke="#222" stroke-width="1.0"/>
<path d="M49.40,234.82H52.9" stroke="#222" stroke-width="1.0"/>
<path d="M49.40,231.04H52.9" stroke="#222" stroke-width="1.0"/>
<path d="M49.40,227.26H52.9" stroke="#222" stroke-width="1.0"/>
<path d="M49.40,223.48H52.9" stroke="#222" stroke-width="1.0"/>
<path d="M49.40,215.92H52.9" stroke="#222" stroke-width="1.0"/>
<path d="M49.40,212.14H52.9" stroke="#222" stroke-width="1.0"/>
<path d="M49.40,208.36H52.9" stroke="#222" stroke-width="1.0"/>
<path d="M49.40,204.58H52.9" stroke="#222" stroke-width="1.0"/>
<path d="M49.40,197.02H52.9" stroke="#222" stroke-width="1.0"/>
<path d="M49.40,193.24H52.9" stroke="#222" stroke-width="1.0"/>
<path d="M49.40,189.46H52.9" stroke="#222" stroke-width="1.0"/>
<path d="M49.40,185.68H52.9" stroke="#222" stroke-width="1.0"/>
<path d="M49.40,178.12H52.9" stroke="#222" stroke-width="1.0"/>
<path d="M49.40,174.34H52.9" stroke="#222" stroke-width="1.0"/>
<path d="M49.40,170.56H52.9" stroke="#222" stroke-width="1.0"/>
<path d="M49.40,166.78H52.9" stroke="#222" stroke-width="1.0"/>
<path d="M52.90,276.40V283.40" stroke="#222" stroke-width="1.3"/>
<path d="M66.61,276.40V279.90" stroke="#222" stroke-width="1.0"/>
<path d="M80.31,276.40V279.90" stroke="#222" stroke-width="1.0"/>
<path d="M94.02,276.40V279.90" stroke="#222" stroke-width="1.0"/>
<path d="M107.72,276.40V283.40" stroke="#222" stroke-width="1.3"/>
<path d="M121.43,276.40V279.90" stroke="#222" stroke-width="1.0"/>
<path d="M135.13,276.40V279.90" stroke="#222" stroke-width="1.0"/>
<path d="M148.84,276.40V279.90" stroke="#222" stroke-width="1.0"/>
<path d="M162.54,276.40V283.40" stroke="#222" stroke-width="1.3"/>
<path d="M176.25,276.40V279.90" stroke="#222" stroke-width="1.0"/>
<path d="M189.95,276.40V279.90" stroke="#222" stroke-width="1.0"/>
<path d="M203.66,276.40V279.90" stroke="#222" stroke-width="1.0"/>
<path d="M217.36,276.40V283.40" stroke="#222" stroke-width="1.3"/>
<path d="M231.06,276.40V279.90" stroke="#222" stroke-width="1.0"/>
<path d="M244.77,276.40V279.90" stroke="#222" stroke-width="1.0"/>
<path d="M258.47,276.40V279.90" stroke="#222" stroke-width="1.0"/>
<path d="M272.18,276.40V283.40" stroke="#222" stroke-width="1.3"/>
<path d="M285.88,276.40V279.90" stroke="#222" stroke-width="1.0"/>
<path d="M299.59,276.40V279.90" stroke="#222" stroke-width="1.0"/>
<path d="M313.29,276.40V279.90" stroke="#222" stroke-width="1.0"/>
<path d="M327.00,276.40V283.40" stroke="#222" stroke-width="1.3"/>
<path d="M340.70,276.40V279.90" stroke="#222" stroke-width="1.0"/>
<path d="M354.41,276.40V279.90" stroke="#222" stroke-width="1.0"/>
<path d="M368.11,276.40V279.90" stroke="#222" stroke-width="1.0"/>
<path d="M52.90,322.20V436.20M52.30,435.60H356" stroke="#222" stroke-width="1.3" fill="none"/>
<path d="M45.90,435.60H52.9" stroke="#222" stroke-width="1.3"/>
<path d="M45.90,416.80H52.9" stroke="#222" stroke-width="1.3"/>
<path d="M45.90,398.00H52.9" stroke="#222" stroke-width="1.3"/>
<path d="M45.90,379.20H52.9" stroke="#222" stroke-width="1.3"/>
<path d="M45.90,360.40H52.9" stroke="#222" stroke-width="1.3"/>
<path d="M45.90,341.60H52.9" stroke="#222" stroke-width="1.3"/>
<path d="M45.90,322.80H52.9" stroke="#222" stroke-width="1.3"/>
<path d="M49.40,431.84H52.9" stroke="#222" stroke-width="1.0"/>
<path d="M49.40,428.08H52.9" stroke="#222" stroke-width="1.0"/>
<path d="M49.40,424.32H52.9" stroke="#222" stroke-width="1.0"/>
<path d="M49.40,420.56H52.9" stroke="#222" stroke-width="1.0"/>
<path d="M49.40,413.04H52.9" stroke="#222" stroke-width="1.0"/>
<path d="M49.40,409.28H52.9" stroke="#222" stroke-width="1.0"/>
<path d="M49.40,405.52H52.9" stroke="#222" stroke-width="1.0"/>
<path d="M49.40,401.76H52.9" stroke="#222" stroke-width="1.0"/>
<path d="M49.40,394.24H52.9" stroke="#222" stroke-width="1.0"/>
<path d="M49.40,390.48H52.9" stroke="#222" stroke-width="1.0"/>
<path d="M49.40,386.72H52.9" stroke="#222" stroke-width="1.0"/>
<path d="M49.40,382.96H52.9" stroke="#222" stroke-width="1.0"/>
<path d="M49.40,375.44H52.9" stroke="#222" stroke-width="1.0"/>
<path d="M49.40,371.68H52.9" stroke="#222" stroke-width="1.0"/>
<path d="M49.40,367.92H52.9" stroke="#222" stroke-width="1.0"/>
<path d="M49.40,364.16H52.9" stroke="#222" stroke-width="1.0"/>
<path d="M49.40,356.64H52.9" stroke="#222" stroke-width="1.0"/>
<path d="M49.40,352.88H52.9" stroke="#222" stroke-width="1.0"/>
<path d="M49.40,349.12H52.9" stroke="#222" stroke-width="1.0"/>
<path d="M49.40,345.36H52.9" stroke="#222" stroke-width="1.0"/>
<path d="M49.40,337.84H52.9" stroke="#222" stroke-width="1.0"/>
<path d="M49.40,334.08H52.9" stroke="#222" stroke-width="1.0"/>
<path d="M49.40,330.32H52.9" stroke="#222" stroke-width="1.0"/>
<path d="M49.40,326.56H52.9" stroke="#222" stroke-width="1.0"/>
<path d="M52.90,435.60V442.60" stroke="#222" stroke-width="1.3"/>
<path d="M66.61,435.60V439.10" stroke="#222" stroke-width="1.0"/>
<path d="M80.31,435.60V439.10" stroke="#222" stroke-width="1.0"/>
<path d="M94.02,435.60V439.10" stroke="#222" stroke-width="1.0"/>
<path d="M107.72,435.60V442.60" stroke="#222" stroke-width="1.3"/>
<path d="M121.43,435.60V439.10" stroke="#222" stroke-width="1.0"/>
<path d="M135.13,435.60V439.10" stroke="#222" stroke-width="1.0"/>
<path d="M148.84,435.60V439.10" stroke="#222" stroke-width="1.0"/>
<path d="M162.54,435.60V442.60" stroke="#222" stroke-width="1.3"/>
<path d="M176.25,435.60V439.10" stroke="#222" stroke-width="1.0"/>
<path d="M189.95,435.60V439.10" stroke="#222" stroke-width="1.0"/>
<path d="M203.66,435.60V439.10" stroke="#222" stroke-width="1.0"/>
<path d="M217.36,435.60V442.60" stroke="#222" stroke-width="1.3"/>
<path d="M231.06,435.60V439.10" stroke="#222" stroke-width="1.0"/>
<path d="M244.77,435.60V439.10" stroke="#222" stroke-width="1.0"/>
<path d="M258.47,435.60V439.10" stroke="#222" stroke-width="1.0"/>
<path d="M272.18,435.60V442.60" stroke="#222" stroke-width="1.3"/>
<path d="M285.88,435.60V439.10" stroke="#222" stroke-width="1.0"/>
<path d="M299.59,435.60V439.10" stroke="#222" stroke-width="1.0"/>
<path d="M313.29,435.60V439.10" stroke="#222" stroke-width="1.0"/>
<path d="M327.00,435.60V442.60" stroke="#222" stroke-width="1.3"/>
<path d="M340.70,435.60V439.10" stroke="#222" stroke-width="1.0"/>
<path d="M354.41,435.60V439.10" stroke="#222" stroke-width="1.0"/>
<path d="M368.11,435.60V439.10" stroke="#222" stroke-width="1.0"/>
</svg>
<div style="position:absolute;left:0;top:0;will-change:transform"><svg width="356" height="475" style="display:block" font-family="Liberation Sans" fill="#000" stroke="#000" stroke-width="0.18" text-rendering="geometricPrecision"><text transform="translate(39.60,113.50) scale(0.91,1)" text-anchor="end" font-size="10.4">15</text><text transform="translate(39.60,92.20) scale(0.91,1)" text-anchor="end" font-size="10.4">18</text><text transform="translate(39.60,70.90) scale(0.91,1)" text-anchor="end" font-size="10.4">21</text><text transform="translate(39.60,49.60) scale(0.91,1)" text-anchor="end" font-size="10.4">24</text><text transform="translate(39.60,28.30) scale(0.91,1)" text-anchor="end" font-size="10.4">27</text><text transform="translate(39.60,7.00) scale(0.91,1)" text-anchor="end" font-size="10.4">30</text><text transform="translate(53.00,137.90) scale(0.91,1)" text-anchor="middle" font-size="10.4">6</text><text transform="translate(107.82,137.90) scale(0.91,1)" text-anchor="middle" font-size="10.4">8</text><text transform="translate(162.64,137.90) scale(0.91,1)" text-anchor="middle" font-size="10.4">10</text><text transform="translate(217.46,137.90) scale(0.91,1)" text-anchor="middle" font-size="10.4">12</text><text transform="translate(272.28,137.90) scale(0.91,1)" text-anchor="middle" font-size="10.4">14</text><text transform="translate(327.10,137.90) scale(0.91,1)" text-anchor="middle" font-size="10.4">16</text><text transform="translate(203.80,154.00) scale(0.92,1)" text-anchor="middle" font-size="13.0">Time (GMT + 1)</text><text transform="translate(39.60,280.00) scale(0.91,1)" text-anchor="end" font-size="10.4">0</text><text transform="translate(39.60,261.10) scale(0.91,1)" text-anchor="end" font-size="10.4">500</text><text transform="translate(39.60,242.20) scale(0.91,1)" text-anchor="end" font-size="10.4">1000</text><text transform="translate(39.60,223.30) scale(0.91,1)" text-anchor="end" font-size="10.4">1500</text><text transform="translate(39.60,204.40) scale(0.91,1)" text-anchor="end" font-size="10.4">2000</text><text transform="translate(39.60,185.50) scale(0.91,1)" text-anchor="end" font-size="10.4">2500</text><text transform="translate(39.60,166.60) scale(0.91,1)" text-anchor="end" font-size="10.4">3000</text><text transform="translate(53.00,297.30) scale(0.91,1)" text-anchor="middle" font-size="10.4">6</text><text transform="translate(107.82,297.30) scale(0.91,1)" text-anchor="middle" font-size="10.4">8</text><text transform="translate(162.64,297.30) scale(0.91,1)" text-anchor="middle" font-size="10.4">10</text><text transform="translate(217.46,297.30) scale(0.91,1)" text-anchor="middle" font-size="10.4">12</text><text transform="translate(272.28,297.30) scale(0.91,1)" text-anchor="middle" font-size="10.4">14</text><text transform="translate(327.10,297.30) scale(0.91,1)" text-anchor="middle" font-size="10.4">16</text><text transform="translate(203.80,313.40) scale(0.92,1)" text-anchor="middle" font-size="13.0">Time (GMT + 1)</text><text transform="translate(39.60,439.20) scale(0.91,1)" text-anchor="end" font-size="10.4">-3</text><text transform="translate(39.60,420.40) scale(0.91,1)" text-anchor="end" font-size="10.4">-2</text><text transform="translate(39.60,401.60) scale(0.91,1)" text-anchor="end" font-size="10.4">-1</text><text transform="translate(39.60,382.80) scale(0.91,1)" text-anchor="end" font-size="10.4">0</text><text transform="translate(39.60,364.00) scale(0.91,1)" text-anchor="end" font-size="10.4">1</text><text transform="translate(39.60,345.20) scale(0.91,1)" text-anchor="end" font-size="10.4">2</text><text transform="translate(39.60,326.40) scale(0.91,1)" text-anchor="end" font-size="10.4">3</text><text transform="translate(53.00,456.50) scale(0.91,1)" text-anchor="middle" font-size="10.4">6</text><text transform="translate(107.82,456.50) scale(0.91,1)" text-anchor="middle" font-size="10.4">8</text><text transform="translate(162.64,456.50) scale(0.91,1)" text-anchor="middle" font-size="10.4">10</text><text transform="translate(217.46,456.50) scale(0.91,1)" text-anchor="middle" font-size="10.4">12</text><text transform="translate(272.28,456.50) scale(0.91,1)" text-anchor="middle" font-size="10.4">14</text><text transform="translate(327.10,456.50) scale(0.91,1)" text-anchor="middle" font-size="10.4">16</text><text transform="translate(203.80,472.60) scale(0.92,1)" text-anchor="middle" font-size="13.0">Time (GMT + 1)</text><text transform="translate(20.40,60.20) rotate(-90) scale(0.93,1)" text-anchor="middle" font-size="12.8">T [<tspan font-size="9.6" dy="-6.2">o</tspan><tspan dy="6.2">C]</tspan></text><text transform="translate(8.90,219.60) rotate(-90) scale(0.95,1)" text-anchor="middle" font-size="12.8">h [m]</text><text transform="translate(22.00,379.00) rotate(-90) scale(0.97,1)" text-anchor="middle" font-size="12.8">UHI [K]</text><text transform="translate(343.80,14.80) scale(0.85,1)" text-anchor="middle" font-size="14.6">a</text><text transform="translate(343.70,179.40) scale(0.85,1)" text-anchor="middle" font-size="14.6">b</text><text transform="translate(343.80,341.60) scale(0.85,1)" text-anchor="middle" font-size="14.6">c</text><text transform="translate(94.80,23.60) scale(1.0,1)" text-anchor="middle" font-size="16.5">I</text><text transform="translate(151.90,23.60) scale(1.0,1)" text-anchor="middle" font-size="16.5">II</text></svg></div>
</body></html>
